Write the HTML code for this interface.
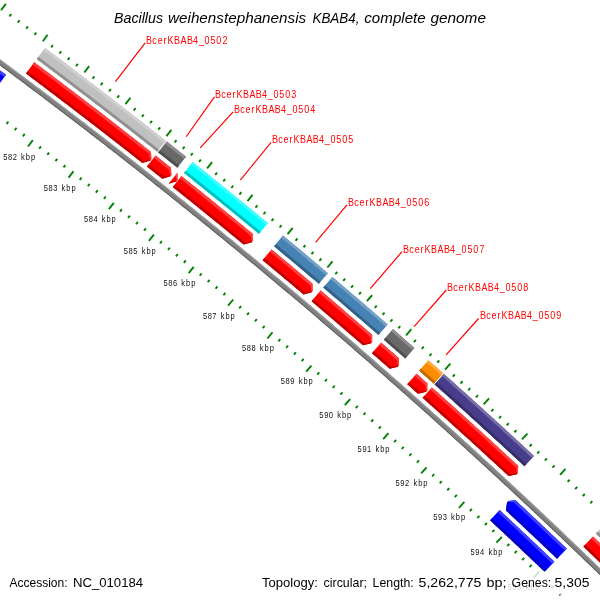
<!DOCTYPE html>
<html><head><meta charset="utf-8"><title>Bacillus weihenstephanensis KBAB4, complete genome</title><style>
html,body{margin:0;padding:0;background:#fff;}
svg{display:block;}
text{will-change:transform;}
</style></head><body>
<svg width="600" height="600" viewBox="0 0 600 600">
<rect width="600" height="600" fill="#fff"/>
<g stroke="#008000" stroke-width="1.9"><line x1="1.08" y1="10.30" x2="5.82" y2="3.85"/><line x1="9.46" y1="16.45" x2="11.23" y2="14.04"/><line x1="17.81" y1="22.62" x2="19.60" y2="20.21"/><line x1="26.16" y1="28.80" x2="27.95" y2="26.39"/><line x1="34.50" y1="35.00" x2="36.29" y2="32.59"/><line x1="42.83" y1="41.21" x2="47.62" y2="34.80"/><line x1="51.15" y1="47.43" x2="52.95" y2="45.03"/><line x1="59.45" y1="53.67" x2="61.26" y2="51.28"/><line x1="8.34" y1="121.59" x2="6.54" y2="123.99"/><line x1="67.75" y1="59.93" x2="69.56" y2="57.53"/><line x1="16.52" y1="127.76" x2="14.71" y2="130.15"/><line x1="76.03" y1="66.20" x2="77.85" y2="63.81"/><line x1="24.69" y1="133.94" x2="22.88" y2="136.33"/><line x1="84.31" y1="72.48" x2="89.15" y2="66.11"/><line x1="32.85" y1="140.13" x2="28.00" y2="146.50"/><line x1="92.57" y1="78.77" x2="94.39" y2="76.39"/><line x1="40.99" y1="146.34" x2="39.17" y2="148.72"/><line x1="100.82" y1="85.09" x2="102.65" y2="82.70"/><line x1="49.13" y1="152.56" x2="47.31" y2="154.94"/><line x1="109.06" y1="91.41" x2="110.89" y2="89.03"/><line x1="57.26" y1="158.80" x2="55.43" y2="161.17"/><line x1="117.29" y1="97.75" x2="119.13" y2="95.37"/><line x1="65.37" y1="165.05" x2="63.54" y2="167.42"/><line x1="125.51" y1="104.10" x2="130.41" y2="97.78"/><line x1="73.47" y1="171.31" x2="68.57" y2="177.64"/><line x1="133.72" y1="110.47" x2="135.56" y2="108.10"/><line x1="81.57" y1="177.59" x2="79.72" y2="179.96"/><line x1="141.92" y1="116.85" x2="143.77" y2="114.49"/><line x1="89.65" y1="183.88" x2="87.80" y2="186.24"/><line x1="150.11" y1="123.25" x2="151.96" y2="120.89"/><line x1="97.72" y1="190.18" x2="95.87" y2="192.55"/><line x1="158.28" y1="129.66" x2="160.14" y2="127.30"/><line x1="105.78" y1="196.50" x2="103.93" y2="198.86"/><line x1="166.45" y1="136.08" x2="171.40" y2="129.80"/><line x1="113.83" y1="202.84" x2="108.88" y2="209.12"/><line x1="174.60" y1="142.52" x2="176.46" y2="140.17"/><line x1="121.87" y1="209.19" x2="120.01" y2="211.54"/><line x1="182.74" y1="148.97" x2="184.61" y2="146.62"/><line x1="129.89" y1="215.55" x2="128.03" y2="217.90"/><line x1="190.87" y1="155.44" x2="192.74" y2="153.09"/><line x1="137.91" y1="221.92" x2="136.04" y2="224.27"/><line x1="198.99" y1="161.92" x2="200.87" y2="159.58"/><line x1="145.92" y1="228.31" x2="144.04" y2="230.65"/><line x1="207.10" y1="168.41" x2="212.11" y2="162.17"/><line x1="153.91" y1="234.71" x2="148.90" y2="240.95"/><line x1="215.20" y1="174.92" x2="217.08" y2="172.58"/><line x1="161.89" y1="241.13" x2="160.01" y2="243.47"/><line x1="223.29" y1="181.44" x2="225.17" y2="179.11"/><line x1="169.87" y1="247.56" x2="167.98" y2="249.89"/><line x1="231.36" y1="187.98" x2="233.25" y2="185.65"/><line x1="177.83" y1="254.00" x2="175.94" y2="256.33"/><line x1="239.42" y1="194.53" x2="241.32" y2="192.20"/><line x1="185.78" y1="260.46" x2="183.88" y2="262.79"/><line x1="247.48" y1="201.09" x2="252.54" y2="194.90"/><line x1="193.72" y1="266.93" x2="188.66" y2="273.13"/><line x1="255.52" y1="207.67" x2="257.42" y2="205.35"/><line x1="201.64" y1="273.42" x2="199.74" y2="275.74"/><line x1="263.55" y1="214.26" x2="265.45" y2="211.94"/><line x1="209.56" y1="279.91" x2="207.65" y2="282.23"/><line x1="271.57" y1="220.87" x2="273.48" y2="218.55"/><line x1="217.47" y1="286.43" x2="215.56" y2="288.74"/><line x1="279.57" y1="227.49" x2="281.49" y2="225.18"/><line x1="225.36" y1="292.95" x2="223.45" y2="295.26"/><line x1="287.57" y1="234.12" x2="292.68" y2="227.97"/><line x1="233.24" y1="299.49" x2="228.13" y2="305.65"/><line x1="295.55" y1="240.77" x2="297.47" y2="238.46"/><line x1="241.11" y1="306.05" x2="239.19" y2="308.35"/><line x1="303.53" y1="247.43" x2="305.45" y2="245.13"/><line x1="248.97" y1="312.61" x2="247.05" y2="314.91"/><line x1="311.49" y1="254.10" x2="313.42" y2="251.80"/><line x1="256.82" y1="319.19" x2="254.89" y2="321.49"/><line x1="319.44" y1="260.79" x2="321.37" y2="258.49"/><line x1="264.66" y1="325.79" x2="262.73" y2="328.08"/><line x1="327.37" y1="267.49" x2="332.54" y2="261.38"/><line x1="272.49" y1="332.39" x2="267.32" y2="338.50"/><line x1="335.30" y1="274.21" x2="337.24" y2="271.92"/><line x1="280.30" y1="339.01" x2="278.36" y2="341.30"/><line x1="343.22" y1="280.93" x2="345.16" y2="278.65"/><line x1="288.10" y1="345.65" x2="286.16" y2="347.93"/><line x1="351.12" y1="287.68" x2="353.07" y2="285.40"/><line x1="295.90" y1="352.29" x2="293.95" y2="354.58"/><line x1="359.01" y1="294.43" x2="360.96" y2="292.16"/><line x1="303.68" y1="358.96" x2="301.72" y2="361.23"/><line x1="366.89" y1="301.20" x2="372.11" y2="295.14"/><line x1="311.45" y1="365.63" x2="306.23" y2="371.69"/><line x1="374.76" y1="307.99" x2="376.72" y2="305.72"/><line x1="319.20" y1="372.32" x2="317.24" y2="374.59"/><line x1="382.62" y1="314.78" x2="384.58" y2="312.52"/><line x1="326.95" y1="379.02" x2="324.98" y2="381.29"/><line x1="390.46" y1="321.59" x2="392.43" y2="319.33"/><line x1="334.68" y1="385.73" x2="332.72" y2="388.00"/><line x1="398.29" y1="328.42" x2="400.27" y2="326.16"/><line x1="342.41" y1="392.46" x2="340.43" y2="394.72"/><line x1="406.12" y1="335.26" x2="411.39" y2="329.24"/><line x1="350.12" y1="399.20" x2="344.85" y2="405.22"/><line x1="413.93" y1="342.11" x2="415.91" y2="339.85"/><line x1="357.82" y1="405.96" x2="355.84" y2="408.21"/><line x1="421.72" y1="348.97" x2="423.71" y2="346.72"/><line x1="365.51" y1="412.72" x2="363.52" y2="414.97"/><line x1="429.51" y1="355.85" x2="431.50" y2="353.60"/><line x1="373.18" y1="419.50" x2="371.19" y2="421.75"/><line x1="437.28" y1="362.74" x2="439.28" y2="360.50"/><line x1="380.85" y1="426.30" x2="378.85" y2="428.54"/><line x1="445.05" y1="369.64" x2="450.37" y2="363.67"/><line x1="388.50" y1="433.11" x2="383.18" y2="439.08"/><line x1="452.80" y1="376.56" x2="454.80" y2="374.33"/><line x1="396.14" y1="439.93" x2="394.14" y2="442.16"/><line x1="460.53" y1="383.49" x2="462.54" y2="381.26"/><line x1="403.77" y1="446.76" x2="401.77" y2="448.99"/><line x1="468.26" y1="390.44" x2="470.27" y2="388.21"/><line x1="411.39" y1="453.61" x2="409.38" y2="455.84"/><line x1="475.98" y1="397.40" x2="477.99" y2="395.17"/><line x1="418.99" y1="460.47" x2="416.98" y2="462.69"/><line x1="483.68" y1="404.37" x2="489.05" y2="398.44"/><line x1="426.59" y1="467.34" x2="421.21" y2="473.27"/><line x1="491.37" y1="411.35" x2="493.39" y2="409.13"/><line x1="434.17" y1="474.22" x2="432.15" y2="476.44"/><line x1="499.05" y1="418.35" x2="501.07" y2="416.13"/><line x1="441.74" y1="481.12" x2="439.72" y2="483.34"/><line x1="506.71" y1="425.36" x2="508.74" y2="423.15"/><line x1="449.30" y1="488.04" x2="447.27" y2="490.25"/><line x1="514.37" y1="432.38" x2="516.40" y2="430.18"/><line x1="456.84" y1="494.96" x2="454.81" y2="497.17"/><line x1="522.01" y1="439.42" x2="527.43" y2="433.54"/><line x1="464.38" y1="501.90" x2="458.95" y2="507.78"/><line x1="529.64" y1="446.47" x2="531.68" y2="444.27"/><line x1="471.90" y1="508.85" x2="469.86" y2="511.05"/><line x1="537.26" y1="453.54" x2="539.30" y2="451.34"/><line x1="479.41" y1="515.81" x2="477.37" y2="518.01"/><line x1="544.86" y1="460.61" x2="546.91" y2="458.42"/><line x1="486.91" y1="522.79" x2="484.86" y2="524.99"/><line x1="552.46" y1="467.70" x2="554.51" y2="465.51"/><line x1="494.39" y1="529.78" x2="492.34" y2="531.97"/><line x1="560.04" y1="474.81" x2="565.51" y2="468.97"/><line x1="501.87" y1="536.78" x2="496.39" y2="542.62"/><line x1="567.61" y1="481.92" x2="569.66" y2="479.74"/><line x1="509.33" y1="543.80" x2="507.27" y2="545.98"/><line x1="575.16" y1="489.05" x2="577.22" y2="486.87"/><line x1="516.78" y1="550.83" x2="514.72" y2="553.01"/><line x1="582.71" y1="496.19" x2="584.77" y2="494.02"/><line x1="524.22" y1="557.87" x2="522.15" y2="560.05"/><line x1="590.24" y1="503.35" x2="592.31" y2="501.17"/><line x1="531.64" y1="564.92" x2="529.58" y2="567.10"/><line x1="539.06" y1="571.99" x2="533.53" y2="577.78"/><line x1="546.46" y1="579.07" x2="544.38" y2="581.24"/><line x1="553.85" y1="586.16" x2="551.77" y2="588.32"/><line x1="561.23" y1="593.27" x2="559.14" y2="595.43"/></g>
<path d="M-51.76,21.27 -54.70,25.32 -52.19,27.13 -49.69,28.95 -47.19,30.77 -44.69,32.59 -42.18,34.41 -39.68,36.23 -37.19,38.05 -34.69,39.88 -32.19,41.70 -29.70,43.53 -27.20,45.36 -24.71,47.19 -22.21,49.02 -19.72,50.85 -17.23,52.69 -14.74,54.52 -12.25,56.36 -9.76,58.20 -7.27,60.03 -4.79,61.87 -2.30,63.72 0.18,65.56 2.67,67.40 5.15,69.25 7.63,71.09 10.11,72.94 12.59,74.79 15.07,76.64 17.55,78.49 20.03,80.35 22.50,82.20 24.98,84.06 27.45,85.91 29.92,87.77 32.40,89.63 34.87,91.49 37.34,93.35 39.81,95.22 42.27,97.08 44.74,98.95 47.21,100.81 49.67,102.68 52.14,104.55 54.60,106.42 57.06,108.29 59.53,110.17 61.99,112.04 64.45,113.92 66.90,115.80 69.36,117.67 71.82,119.55 74.27,121.43 76.73,123.32 79.18,125.20 81.64,127.09 84.09,128.97 86.54,130.86 88.99,132.75 91.44,134.64 93.89,136.53 96.33,138.42 98.78,140.31 101.22,142.21 103.67,144.11 106.11,146.00 108.55,147.90 110.99,149.80 113.43,151.70 115.87,153.61 118.31,155.51 120.75,157.41 123.18,159.32 125.62,161.23 128.05,163.14 130.49,165.05 132.92,166.96 135.35,168.87 137.78,170.79 140.21,172.70 142.64,174.62 145.06,176.53 147.49,178.45 149.92,180.37 152.34,182.29 154.76,184.22 157.19,186.14 159.61,188.07 162.03,189.99 164.45,191.92 166.87,193.85 169.28,195.78 171.70,197.71 174.11,199.64 176.53,201.58 178.94,203.51 181.35,205.45 183.77,207.39 186.18,209.33 188.58,211.27 190.99,213.21 193.40,215.15 195.81,217.09 198.21,219.04 200.62,220.99 203.02,222.93 205.42,224.88 207.82,226.83 210.22,228.78 212.62,230.74 215.02,232.69 217.42,234.64 219.81,236.60 222.21,238.56 224.60,240.52 227.00,242.48 229.39,244.44 231.78,246.40 234.17,248.36 236.56,250.33 238.95,252.30 241.33,254.26 243.72,256.23 246.10,258.20 248.49,260.17 250.87,262.15 253.25,264.12 255.63,266.09 258.01,268.07 260.39,270.05 262.77,272.03 265.15,274.01 267.52,275.99 269.90,277.97 272.27,279.95 274.65,281.94 277.02,283.92 279.39,285.91 281.76,287.90 284.13,289.89 286.49,291.88 288.86,293.87 291.23,295.86 293.59,297.86 295.95,299.85 298.32,301.85 300.68,303.85 303.04,305.85 305.40,307.85 307.76,309.85 310.11,311.85 312.47,313.86 314.82,315.86 317.18,317.87 319.53,319.88 321.88,321.89 324.24,323.90 326.59,325.91 328.93,327.92 331.28,329.93 333.63,331.95 335.97,333.97 338.32,335.98 340.66,338.00 343.01,340.02 345.35,342.04 347.69,344.07 350.03,346.09 352.37,348.11 354.70,350.14 357.04,352.17 359.38,354.20 361.71,356.23 364.04,358.26 366.38,360.29 368.71,362.32 371.04,364.36 373.37,366.39 375.69,368.43 378.02,370.47 380.35,372.51 382.67,374.55 385.00,376.59 387.32,378.63 389.64,380.68 391.96,382.72 394.28,384.77 396.60,386.82 398.92,388.87 401.23,390.92 403.55,392.97 405.86,395.02 408.18,397.07 410.49,399.13 412.80,401.18 415.11,403.24 417.42,405.30 419.73,407.36 422.03,409.42 424.34,411.48 426.64,413.55 428.95,415.61 431.25,417.68 433.55,419.74 435.85,421.81 438.15,423.88 440.45,425.95 442.75,428.02 445.04,430.09 447.34,432.17 449.63,434.24 451.92,436.32 454.22,438.40 456.51,440.48 458.80,442.56 461.09,444.64 463.37,446.72 465.66,448.80 467.95,450.89 470.23,452.97 472.51,455.06 474.80,457.15 477.08,459.24 479.36,461.33 481.64,463.42 483.91,465.51 486.19,467.61 488.47,469.70 490.74,471.80 493.01,473.90 495.29,476.00 497.56,478.10 499.83,480.20 502.10,482.30 504.36,484.40 506.63,486.51 508.90,488.61 511.16,490.72 513.43,492.83 515.69,494.94 517.95,497.05 520.21,499.16 522.47,501.27 524.73,503.39 526.99,505.50 529.24,507.62 531.50,509.73 533.75,511.85 536.00,513.97 538.26,516.09 540.51,518.22 542.76,520.34 545.00,522.46 547.25,524.59 549.50,526.72 551.74,528.84 553.99,530.97 556.23,533.10 558.47,535.24 560.71,537.37 562.95,539.50 565.19,541.64 567.43,543.77 569.66,545.91 571.90,548.05 574.13,550.19 576.37,552.33 578.60,554.47 580.83,556.61 583.06,558.76 585.29,560.90 587.51,563.05 589.74,565.20 591.97,567.35 594.19,569.50 596.41,571.65 598.63,573.80 600.86,575.95 603.08,578.11 605.29,580.26 607.51,582.42 609.73,584.58 611.94,586.74 614.16,588.90 616.37,591.06 618.58,593.22 620.79,595.38 623.00,597.55 625.21,599.72 627.42,601.88 629.62,604.05 631.83,606.22 634.03,608.39 636.24,610.56 638.44,612.74 640.64,614.91 641.34,614.20 641.34,614.20 644.15,611.35 641.95,609.18 639.75,607.00 637.54,604.83 635.34,602.66 633.13,600.49 630.92,598.32 628.71,596.15 626.50,593.98 624.29,591.81 622.08,589.65 619.86,587.48 617.65,585.32 615.43,583.16 613.22,581.00 611.00,578.84 608.78,576.68 606.56,574.52 604.34,572.36 602.11,570.21 599.89,568.05 597.67,565.90 595.44,563.75 593.21,561.60 590.98,559.45 588.76,557.30 586.52,555.16 584.29,553.01 582.06,550.86 579.83,548.72 577.59,546.58 575.36,544.44 573.12,542.30 570.88,540.16 568.64,538.02 566.40,535.88 564.16,533.75 561.92,531.61 559.67,529.48 557.43,527.35 555.18,525.22 552.94,523.09 550.69,520.96 548.44,518.83 546.19,516.70 543.94,514.58 541.68,512.46 539.43,510.33 537.18,508.21 534.92,506.09 532.66,503.97 530.41,501.85 528.15,499.74 525.89,497.62 523.63,495.51 521.36,493.39 519.10,491.28 516.83,489.17 514.57,487.06 512.30,484.95 510.03,482.84 507.77,480.74 505.50,478.63 503.22,476.53 500.95,474.42 498.68,472.32 496.41,470.22 494.13,468.12 491.85,466.02 489.58,463.93 487.30,461.83 485.02,459.74 482.74,457.64 480.45,455.55 478.17,453.46 475.89,451.37 473.60,449.28 471.32,447.19 469.03,445.11 466.74,443.02 464.45,440.94 462.16,438.86 459.87,436.77 457.58,434.69 455.28,432.61 452.99,430.54 450.69,428.46 448.39,426.38 446.10,424.31 443.80,422.24 441.50,420.16 439.20,418.09 436.89,416.02 434.59,413.95 432.29,411.89 429.98,409.82 427.67,407.76 425.37,405.69 423.06,403.63 420.75,401.57 418.44,399.51 416.12,397.45 413.81,395.39 411.50,393.33 409.18,391.28 406.87,389.22 404.55,387.17 402.23,385.12 399.91,383.07 397.59,381.02 395.27,378.97 392.95,376.92 390.62,374.88 388.30,372.83 385.97,370.79 383.64,368.75 381.32,366.71 378.99,364.67 376.66,362.63 374.33,360.59 371.99,358.56 369.66,356.52 367.33,354.49 364.99,352.45 362.66,350.42 360.32,348.39 357.98,346.36 355.64,344.34 353.30,342.31 350.96,340.28 348.62,338.26 346.27,336.24 343.93,334.22 341.58,332.19 339.24,330.18 336.89,328.16 334.54,326.14 332.19,324.12 329.84,322.11 327.49,320.10 325.13,318.09 322.78,316.07 320.42,314.07 318.07,312.06 315.71,310.05 313.35,308.04 310.99,306.04 308.63,304.04 306.27,302.03 303.91,300.03 301.55,298.03 299.18,296.03 296.82,294.04 294.45,292.04 292.08,290.05 289.71,288.05 287.34,286.06 284.97,284.07 282.60,282.08 280.23,280.09 277.85,278.10 275.48,276.12 273.10,274.13 270.73,272.15 268.35,270.16 265.97,268.18 263.59,266.20 261.21,264.22 258.83,262.25 256.44,260.27 254.06,258.29 251.68,256.32 249.29,254.35 246.90,252.38 244.51,250.41 242.13,248.44 239.74,246.47 237.34,244.50 234.95,242.54 232.56,240.57 230.17,238.61 227.77,236.65 225.37,234.69 222.98,232.73 220.58,230.77 218.18,228.81 215.78,226.86 213.38,224.90 210.98,222.95 208.57,221.00 206.17,219.05 203.76,217.10 201.36,215.15 198.95,213.21 196.54,211.26 194.13,209.32 191.72,207.37 189.31,205.43 186.90,203.49 184.48,201.55 182.07,199.61 179.66,197.68 177.24,195.74 174.82,193.81 172.40,191.87 169.98,189.94 167.56,188.01 165.14,186.08 162.72,184.15 160.30,182.23 157.87,180.30 155.45,178.38 153.02,176.45 150.59,174.53 148.17,172.61 145.74,170.69 143.31,168.77 140.87,166.86 138.44,164.94 136.01,163.03 133.57,161.12 131.14,159.20 128.70,157.29 126.27,155.38 123.83,153.48 121.39,151.57 118.95,149.66 116.51,147.76 114.07,145.86 111.62,143.96 109.18,142.06 106.73,140.16 104.29,138.26 101.84,136.36 99.39,134.47 96.94,132.57 94.49,130.68 92.04,128.79 89.59,126.90 87.14,125.01 84.68,123.12 82.23,121.24 79.77,119.35 77.32,117.47 74.86,115.58 72.40,113.70 69.94,111.82 67.48,109.94 65.02,108.07 62.55,106.19 60.09,104.31 57.63,102.44 55.16,100.57 52.69,98.70 50.23,96.83 47.76,94.96 45.29,93.09 42.82,91.23 40.35,89.36 37.88,87.50 35.40,85.64 32.93,83.77 30.45,81.91 27.98,80.06 25.50,78.20 23.02,76.34 20.54,74.49 18.06,72.64 15.58,70.78 13.10,68.93 10.62,67.08 8.13,65.24 5.65,63.39 3.16,61.54 0.68,59.70 -1.81,57.86 -4.30,56.01 -6.79,54.17 -9.28,52.33 -11.77,50.50 -14.26,48.66 -16.76,46.83 -19.25,44.99 -21.75,43.16 -24.24,41.33 -26.74,39.50 -29.24,37.67 -31.74,35.84 -34.24,34.02 -36.74,32.19 -39.24,30.37 -41.74,28.54 -44.25,26.72 -46.75,24.90 -49.26,23.09Z" fill="#808080"/><path d="M644.15,611.35 641.95,609.18 639.75,607.00 637.54,604.83 635.34,602.66 633.13,600.49 630.92,598.32 628.71,596.15 626.50,593.98 624.29,591.81 622.08,589.65 619.86,587.48 617.65,585.32 615.43,583.16 613.22,581.00 611.00,578.84 608.78,576.68 606.56,574.52 604.34,572.36 602.11,570.21 599.89,568.05 597.67,565.90 595.44,563.75 593.21,561.60 590.98,559.45 588.76,557.30 586.52,555.16 584.29,553.01 582.06,550.86 579.83,548.72 577.59,546.58 575.36,544.44 573.12,542.30 570.88,540.16 568.64,538.02 566.40,535.88 564.16,533.75 561.92,531.61 559.67,529.48 557.43,527.35 555.18,525.22 552.94,523.09 550.69,520.96 548.44,518.83 546.19,516.70 543.94,514.58 541.68,512.46 539.43,510.33 537.18,508.21 534.92,506.09 532.66,503.97 530.41,501.85 528.15,499.74 525.89,497.62 523.63,495.51 521.36,493.39 519.10,491.28 516.83,489.17 514.57,487.06 512.30,484.95 510.03,482.84 507.77,480.74 505.50,478.63 503.22,476.53 500.95,474.42 498.68,472.32 496.41,470.22 494.13,468.12 491.85,466.02 489.58,463.93 487.30,461.83 485.02,459.74 482.74,457.64 480.45,455.55 478.17,453.46 475.89,451.37 473.60,449.28 471.32,447.19 469.03,445.11 466.74,443.02 464.45,440.94 462.16,438.86 459.87,436.77 457.58,434.69 455.28,432.61 452.99,430.54 450.69,428.46 448.39,426.38 446.10,424.31 443.80,422.24 441.50,420.16 439.20,418.09 436.89,416.02 434.59,413.95 432.29,411.89 429.98,409.82 427.67,407.76 425.37,405.69 423.06,403.63 420.75,401.57 418.44,399.51 416.12,397.45 413.81,395.39 411.50,393.33 409.18,391.28 406.87,389.22 404.55,387.17 402.23,385.12 399.91,383.07 397.59,381.02 395.27,378.97 392.95,376.92 390.62,374.88 388.30,372.83 385.97,370.79 383.64,368.75 381.32,366.71 378.99,364.67 376.66,362.63 374.33,360.59 371.99,358.56 369.66,356.52 367.33,354.49 364.99,352.45 362.66,350.42 360.32,348.39 357.98,346.36 355.64,344.34 353.30,342.31 350.96,340.28 348.62,338.26 346.27,336.24 343.93,334.22 341.58,332.19 339.24,330.18 336.89,328.16 334.54,326.14 332.19,324.12 329.84,322.11 327.49,320.10 325.13,318.09 322.78,316.07 320.42,314.07 318.07,312.06 315.71,310.05 313.35,308.04 310.99,306.04 308.63,304.04 306.27,302.03 303.91,300.03 301.55,298.03 299.18,296.03 296.82,294.04 294.45,292.04 292.08,290.05 289.71,288.05 287.34,286.06 284.97,284.07 282.60,282.08 280.23,280.09 277.85,278.10 275.48,276.12 273.10,274.13 270.73,272.15 268.35,270.16 265.97,268.18 263.59,266.20 261.21,264.22 258.83,262.25 256.44,260.27 254.06,258.29 251.68,256.32 249.29,254.35 246.90,252.38 244.51,250.41 242.13,248.44 239.74,246.47 237.34,244.50 234.95,242.54 232.56,240.57 230.17,238.61 227.77,236.65 225.37,234.69 222.98,232.73 220.58,230.77 218.18,228.81 215.78,226.86 213.38,224.90 210.98,222.95 208.57,221.00 206.17,219.05 203.76,217.10 201.36,215.15 198.95,213.21 196.54,211.26 194.13,209.32 191.72,207.37 189.31,205.43 186.90,203.49 184.48,201.55 182.07,199.61 179.66,197.68 177.24,195.74 174.82,193.81 172.40,191.87 169.98,189.94 167.56,188.01 165.14,186.08 162.72,184.15 160.30,182.23 157.87,180.30 155.45,178.38 153.02,176.45 150.59,174.53 148.17,172.61 145.74,170.69 143.31,168.77 140.87,166.86 138.44,164.94 136.01,163.03 133.57,161.12 131.14,159.20 128.70,157.29 126.27,155.38 123.83,153.48 121.39,151.57 118.95,149.66 116.51,147.76 114.07,145.86 111.62,143.96 109.18,142.06 106.73,140.16 104.29,138.26 101.84,136.36 99.39,134.47 96.94,132.57 94.49,130.68 92.04,128.79 89.59,126.90 87.14,125.01 84.68,123.12 82.23,121.24 79.77,119.35 77.32,117.47 74.86,115.58 72.40,113.70 69.94,111.82 67.48,109.94 65.02,108.07 62.55,106.19 60.09,104.31 57.63,102.44 55.16,100.57 52.69,98.70 50.23,96.83 47.76,94.96 45.29,93.09 42.82,91.23 40.35,89.36 37.88,87.50 35.40,85.64 32.93,83.77 30.45,81.91 27.98,80.06 25.50,78.20 23.02,76.34 20.54,74.49 18.06,72.64 15.58,70.78 13.10,68.93 10.62,67.08 8.13,65.24 5.65,63.39 3.16,61.54 0.68,59.70 -1.81,57.86 -4.30,56.01 -6.79,54.17 -9.28,52.33 -11.77,50.50 -14.26,48.66 -16.76,46.83 -19.25,44.99 -21.75,43.16 -24.24,41.33 -26.74,39.50 -29.24,37.67 -31.74,35.84 -34.24,34.02 -36.74,32.19 -39.24,30.37 -41.74,28.54 -44.25,26.72 -46.75,24.90 -49.26,23.09 -51.76,21.27 -54.11,24.51 -52.35,22.08 -49.84,23.89 -47.34,25.71 -44.84,27.53 -42.33,29.35 -39.83,31.17 -37.33,33.00 -34.83,34.82 -32.33,36.65 -29.83,38.48 -27.33,40.30 -24.83,42.13 -22.34,43.96 -19.84,45.80 -17.35,47.63 -14.86,49.47 -12.37,51.30 -9.87,53.14 -7.38,54.98 -4.90,56.82 -2.41,58.66 0.08,60.50 2.57,62.35 5.05,64.19 7.54,66.04 10.02,67.89 12.50,69.73 14.98,71.59 17.46,73.44 19.94,75.29 22.42,77.14 24.90,79.00 27.38,80.86 29.85,82.71 32.33,84.57 34.80,86.43 37.27,88.30 39.75,90.16 42.22,92.02 44.69,93.89 47.16,95.76 49.62,97.62 52.09,99.49 54.56,101.37 57.02,103.24 59.49,105.11 61.95,106.99 64.41,108.86 66.87,110.74 69.33,112.62 71.79,114.50 74.25,116.38 76.71,118.26 79.16,120.14 81.62,122.03 84.07,123.91 86.53,125.80 88.98,127.69 91.43,129.58 93.88,131.47 96.33,133.36 98.78,135.26 101.23,137.15 103.67,139.05 106.12,140.95 108.56,142.84 111.01,144.74 113.45,146.65 115.89,148.55 118.33,150.45 120.77,152.36 123.21,154.26 125.65,156.17 128.09,158.08 130.52,159.99 132.96,161.90 135.39,163.81 137.82,165.73 140.26,167.64 142.69,169.56 145.12,171.48 147.55,173.40 149.97,175.32 152.40,177.24 154.83,179.16 157.25,181.08 159.67,183.01 162.10,184.94 164.52,186.86 166.94,188.79 169.36,190.72 171.78,192.65 174.20,194.59 176.61,196.52 179.03,198.46 181.44,200.39 183.86,202.33 186.27,204.27 188.68,206.21 191.09,208.15 193.50,210.09 195.91,212.04 198.32,213.98 200.73,215.93 203.13,217.88 205.54,219.83 207.94,221.78 210.35,223.73 212.75,225.68 215.15,227.63 217.55,229.59 219.95,231.55 222.34,233.50 224.74,235.46 227.14,237.42 229.53,239.38 231.93,241.35 234.32,243.31 236.71,245.27 239.10,247.24 241.49,249.21 243.88,251.18 246.27,253.15 248.65,255.12 251.04,257.09 253.42,259.06 255.81,261.04 258.19,263.02 260.57,264.99 262.95,266.97 265.33,268.95 267.71,270.93 270.09,272.91 272.46,274.90 274.84,276.88 277.21,278.87 279.59,280.86 281.96,282.84 284.33,284.83 286.70,286.83 289.07,288.82 291.44,290.81 293.80,292.81 296.17,294.80 298.54,296.80 300.90,298.80 303.26,300.80 305.62,302.80 307.99,304.80 310.35,306.80 312.70,308.81 315.06,310.81 317.42,312.82 319.77,314.83 322.13,316.84 324.48,318.85 326.84,320.86 329.19,322.87 331.54,324.88 333.89,326.90 336.24,328.92 338.58,330.93 340.93,332.95 343.27,334.97 345.62,336.99 347.96,339.02 350.30,341.04 352.65,343.07 354.99,345.09 357.32,347.12 359.66,349.15 362.00,351.18 364.34,353.21 366.67,355.24 369.00,357.27 371.34,359.31 373.67,361.34 376.00,363.38 378.33,365.42 380.66,367.46 382.99,369.50 385.31,371.54 387.64,373.59 389.96,375.63 392.28,377.68 394.61,379.72 396.93,381.77 399.25,383.82 401.57,385.87 403.88,387.92 406.20,389.97 408.52,392.03 410.83,394.08 413.15,396.14 415.46,398.20 417.77,400.25 420.08,402.31 422.39,404.38 424.70,406.44 427.01,408.50 429.31,410.57 431.62,412.63 433.92,414.70 436.22,416.77 438.53,418.84 440.83,420.91 443.13,422.98 445.43,425.05 447.72,427.13 450.02,429.20 452.32,431.28 454.61,433.36 456.90,435.43 459.20,437.51 461.49,439.60 463.78,441.68 466.07,443.76 468.35,445.85 470.64,447.93 472.93,450.02 475.21,452.11 477.50,454.20 479.78,456.29 482.06,458.38 484.34,460.47 486.62,462.57 488.90,464.66 491.18,466.76 493.45,468.86 495.73,470.96 498.00,473.06 500.27,475.16 502.55,477.26 504.82,479.36 507.09,481.47 509.35,483.58 511.62,485.68 513.89,487.79 516.15,489.90 518.42,492.01 520.68,494.12 522.94,496.24 525.20,498.35 527.46,500.47 529.72,502.58 531.98,504.70 534.24,506.82 536.49,508.94 538.75,511.06 541.00,513.18 543.25,515.31 545.50,517.43 547.75,519.56 550.00,521.68 552.25,523.81 554.49,525.94 556.74,528.07 558.98,530.20 561.23,532.34 563.47,534.47 565.71,536.61 567.95,538.74 570.19,540.88 572.43,543.02 574.66,545.16 576.90,547.30 579.13,549.44 581.37,551.59 583.60,553.73 585.83,555.88 588.06,558.02 590.29,560.17 592.52,562.32 594.75,564.47 596.97,566.62 599.20,568.77 601.42,570.93 603.64,573.08 605.86,575.24 608.08,577.39 610.30,579.55 612.52,581.71 614.74,583.87 616.95,586.03 619.17,588.20 621.38,590.36 623.59,592.53 625.80,594.69 628.01,596.86 630.22,599.03 632.43,601.20 634.63,603.37 636.84,605.54 639.04,607.71 641.25,609.89 643.45,612.06 641.34,614.20Z" fill="#a0a0a0"/><path d="M-54.70,25.32 -52.19,27.13 -49.69,28.95 -47.19,30.77 -44.69,32.59 -42.18,34.41 -39.68,36.23 -37.19,38.05 -34.69,39.88 -32.19,41.70 -29.70,43.53 -27.20,45.36 -24.71,47.19 -22.21,49.02 -19.72,50.85 -17.23,52.69 -14.74,54.52 -12.25,56.36 -9.76,58.20 -7.27,60.03 -4.79,61.87 -2.30,63.72 0.18,65.56 2.67,67.40 5.15,69.25 7.63,71.09 10.11,72.94 12.59,74.79 15.07,76.64 17.55,78.49 20.03,80.35 22.50,82.20 24.98,84.06 27.45,85.91 29.92,87.77 32.40,89.63 34.87,91.49 37.34,93.35 39.81,95.22 42.27,97.08 44.74,98.95 47.21,100.81 49.67,102.68 52.14,104.55 54.60,106.42 57.06,108.29 59.53,110.17 61.99,112.04 64.45,113.92 66.90,115.80 69.36,117.67 71.82,119.55 74.27,121.43 76.73,123.32 79.18,125.20 81.64,127.09 84.09,128.97 86.54,130.86 88.99,132.75 91.44,134.64 93.89,136.53 96.33,138.42 98.78,140.31 101.22,142.21 103.67,144.11 106.11,146.00 108.55,147.90 110.99,149.80 113.43,151.70 115.87,153.61 118.31,155.51 120.75,157.41 123.18,159.32 125.62,161.23 128.05,163.14 130.49,165.05 132.92,166.96 135.35,168.87 137.78,170.79 140.21,172.70 142.64,174.62 145.06,176.53 147.49,178.45 149.92,180.37 152.34,182.29 154.76,184.22 157.19,186.14 159.61,188.07 162.03,189.99 164.45,191.92 166.87,193.85 169.28,195.78 171.70,197.71 174.11,199.64 176.53,201.58 178.94,203.51 181.35,205.45 183.77,207.39 186.18,209.33 188.58,211.27 190.99,213.21 193.40,215.15 195.81,217.09 198.21,219.04 200.62,220.99 203.02,222.93 205.42,224.88 207.82,226.83 210.22,228.78 212.62,230.74 215.02,232.69 217.42,234.64 219.81,236.60 222.21,238.56 224.60,240.52 227.00,242.48 229.39,244.44 231.78,246.40 234.17,248.36 236.56,250.33 238.95,252.30 241.33,254.26 243.72,256.23 246.10,258.20 248.49,260.17 250.87,262.15 253.25,264.12 255.63,266.09 258.01,268.07 260.39,270.05 262.77,272.03 265.15,274.01 267.52,275.99 269.90,277.97 272.27,279.95 274.65,281.94 277.02,283.92 279.39,285.91 281.76,287.90 284.13,289.89 286.49,291.88 288.86,293.87 291.23,295.86 293.59,297.86 295.95,299.85 298.32,301.85 300.68,303.85 303.04,305.85 305.40,307.85 307.76,309.85 310.11,311.85 312.47,313.86 314.82,315.86 317.18,317.87 319.53,319.88 321.88,321.89 324.24,323.90 326.59,325.91 328.93,327.92 331.28,329.93 333.63,331.95 335.97,333.97 338.32,335.98 340.66,338.00 343.01,340.02 345.35,342.04 347.69,344.07 350.03,346.09 352.37,348.11 354.70,350.14 357.04,352.17 359.38,354.20 361.71,356.23 364.04,358.26 366.38,360.29 368.71,362.32 371.04,364.36 373.37,366.39 375.69,368.43 378.02,370.47 380.35,372.51 382.67,374.55 385.00,376.59 387.32,378.63 389.64,380.68 391.96,382.72 394.28,384.77 396.60,386.82 398.92,388.87 401.23,390.92 403.55,392.97 405.86,395.02 408.18,397.07 410.49,399.13 412.80,401.18 415.11,403.24 417.42,405.30 419.73,407.36 422.03,409.42 424.34,411.48 426.64,413.55 428.95,415.61 431.25,417.68 433.55,419.74 435.85,421.81 438.15,423.88 440.45,425.95 442.75,428.02 445.04,430.09 447.34,432.17 449.63,434.24 451.92,436.32 454.22,438.40 456.51,440.48 458.80,442.56 461.09,444.64 463.37,446.72 465.66,448.80 467.95,450.89 470.23,452.97 472.51,455.06 474.80,457.15 477.08,459.24 479.36,461.33 481.64,463.42 483.91,465.51 486.19,467.61 488.47,469.70 490.74,471.80 493.01,473.90 495.29,476.00 497.56,478.10 499.83,480.20 502.10,482.30 504.36,484.40 506.63,486.51 508.90,488.61 511.16,490.72 513.43,492.83 515.69,494.94 517.95,497.05 520.21,499.16 522.47,501.27 524.73,503.39 526.99,505.50 529.24,507.62 531.50,509.73 533.75,511.85 536.00,513.97 538.26,516.09 540.51,518.22 542.76,520.34 545.00,522.46 547.25,524.59 549.50,526.72 551.74,528.84 553.99,530.97 556.23,533.10 558.47,535.24 560.71,537.37 562.95,539.50 565.19,541.64 567.43,543.77 569.66,545.91 571.90,548.05 574.13,550.19 576.37,552.33 578.60,554.47 580.83,556.61 583.06,558.76 585.29,560.90 587.51,563.05 589.74,565.20 591.97,567.35 594.19,569.50 596.41,571.65 598.63,573.80 600.86,575.95 603.08,578.11 605.29,580.26 607.51,582.42 609.73,584.58 611.94,586.74 614.16,588.90 616.37,591.06 618.58,593.22 620.79,595.38 623.00,597.55 625.21,599.72 627.42,601.88 629.62,604.05 631.83,606.22 634.03,608.39 636.24,610.56 638.44,612.74 640.64,614.91 641.34,614.20 639.14,612.02 636.94,609.85 634.73,607.68 632.53,605.51 630.32,603.34 628.12,601.17 625.91,599.00 623.70,596.84 621.49,594.67 619.28,592.51 617.07,590.34 614.86,588.18 612.64,586.02 610.43,583.86 608.21,581.70 605.99,579.55 603.77,577.39 601.55,575.24 599.33,573.08 597.11,570.93 594.88,568.78 592.66,566.63 590.43,564.48 588.21,562.33 585.98,560.18 583.75,558.04 581.52,555.89 579.29,553.75 577.06,551.61 574.82,549.47 572.59,547.33 570.35,545.19 568.12,543.05 565.88,540.91 563.64,538.78 561.40,536.64 559.16,534.51 556.92,532.38 554.67,530.25 552.43,528.12 550.19,525.99 547.94,523.86 545.69,521.74 543.44,519.61 541.19,517.49 538.94,515.37 536.69,513.25 534.44,511.13 532.18,509.01 529.93,506.89 527.67,504.77 525.41,502.66 523.15,500.54 520.89,498.43 518.63,496.32 516.37,494.21 514.11,492.10 511.84,489.99 509.58,487.88 507.31,485.77 505.05,483.67 502.78,481.57 500.51,479.46 498.24,477.36 495.96,475.26 493.69,473.16 491.42,471.06 489.14,468.97 486.87,466.87 484.59,464.78 482.31,462.68 480.03,460.59 477.75,458.50 475.47,456.41 473.19,454.32 470.90,452.24 468.62,450.15 466.33,448.06 464.05,445.98 461.76,443.90 459.47,441.82 457.18,439.74 454.89,437.66 452.60,435.58 450.30,433.50 448.01,431.43 445.71,429.35 443.42,427.28 441.12,425.21 438.82,423.14 436.52,421.07 434.22,419.00 431.92,416.93 429.61,414.87 427.31,412.80 425.01,410.74 422.70,408.67 420.39,406.61 418.08,404.55 415.77,402.49 413.46,400.44 411.15,398.38 408.84,396.33 406.53,394.27 404.21,392.22 401.90,390.17 399.58,388.12 397.26,386.07 394.94,384.02 392.62,381.97 390.30,379.93 387.98,377.88 385.66,375.84 383.33,373.80 381.01,371.76 378.68,369.72 376.35,367.68 374.02,365.64 371.70,363.60 369.36,361.57 367.03,359.54 364.70,357.50 362.37,355.47 360.03,353.44 357.70,351.41 355.36,349.39 353.02,347.36 350.68,345.33 348.34,343.31 346.00,341.29 343.66,339.27 341.32,337.25 338.97,335.23 336.63,333.21 334.28,331.19 331.93,329.18 329.59,327.16 327.24,325.15 324.89,323.14 322.53,321.13 320.18,319.12 317.83,317.11 315.47,315.10 313.12,313.10 310.76,311.09 308.40,309.09 306.04,307.09 303.68,305.08 301.32,303.09 298.96,301.09 296.60,299.09 294.24,297.09 291.87,295.10 289.50,293.11 287.14,291.11 284.77,289.12 282.40,287.13 280.03,285.14 277.66,283.16 275.29,281.17 272.91,279.18 270.54,277.20 268.16,275.22 265.79,273.24 263.41,271.26 261.03,269.28 258.65,267.30 256.27,265.32 253.89,263.35 251.51,261.38 249.13,259.40 246.74,257.43 244.36,255.46 241.97,253.49 239.58,251.52 237.19,249.56 234.80,247.59 232.41,245.63 230.02,243.67 227.63,241.70 225.24,239.74 222.84,237.78 220.45,235.83 218.05,233.87 215.65,231.91 213.25,229.96 210.85,228.01 208.45,226.06 206.05,224.11 203.65,222.16 201.25,220.21 198.84,218.26 196.44,216.32 194.03,214.37 191.62,212.43 189.21,210.49 186.80,208.55 184.39,206.61 181.98,204.67 179.57,202.73 177.15,200.80 174.74,198.86 172.32,196.93 169.91,195.00 167.49,193.07 165.07,191.14 162.65,189.21 160.23,187.28 157.81,185.36 155.39,183.43 152.96,181.51 150.54,179.59 148.11,177.67 145.68,175.75 143.26,173.83 140.83,171.92 138.40,170.00 135.97,168.09 133.54,166.17 131.10,164.26 128.67,162.35 126.24,160.44 123.80,158.53 121.36,156.63 118.93,154.72 116.49,152.82 114.05,150.91 111.61,149.01 109.17,147.11 106.72,145.21 104.28,143.32 101.84,141.42 99.39,139.52 96.94,137.63 94.50,135.74 92.05,133.85 89.60,131.96 87.15,130.07 84.70,128.18 82.25,126.29 79.79,124.41 77.34,122.52 74.88,120.64 72.43,118.76 69.97,116.88 67.51,115.00 65.05,113.12 62.59,111.25 60.13,109.37 57.67,107.50 55.21,105.63 52.74,103.75 50.28,101.88 47.81,100.02 45.35,98.15 42.88,96.28 40.41,94.42 37.94,92.55 35.47,90.69 33.00,88.83 30.52,86.97 28.05,85.11 25.58,83.26 23.10,81.40 20.62,79.55 18.15,77.69 15.67,75.84 13.19,73.99 10.71,72.14 8.23,70.29 5.75,68.45 3.26,66.60 0.78,64.76 -1.71,62.91 -4.19,61.07 -6.68,59.23 -9.17,57.39 -11.66,55.55 -14.15,53.72 -16.64,51.88 -19.13,50.05 -21.62,48.21 -24.11,46.38 -26.61,44.55 -29.10,42.72 -31.60,40.90 -34.10,39.07 -36.60,37.25 -39.10,35.42 -41.60,33.60 -44.10,31.78 -46.60,29.96 -49.10,28.14 -51.61,26.32 -54.11,24.51 -51.76,21.27Z" fill="#606060"/>
<path d="M45.09,47.90 38.38,56.86 38.38,56.86 36.70,59.10 39.19,60.96 41.67,62.83 44.15,64.69 46.64,66.56 49.12,68.42 51.60,70.29 54.08,72.16 56.56,74.03 59.03,75.90 61.51,77.78 63.99,79.65 66.46,81.53 68.94,83.40 71.41,85.28 73.88,87.16 76.35,89.04 78.82,90.92 81.29,92.81 83.76,94.69 86.22,96.58 88.69,98.47 91.15,100.35 93.62,102.24 96.08,104.13 98.54,106.03 101.00,107.92 103.46,109.82 105.92,111.71 108.38,113.61 110.84,115.51 113.30,117.41 115.75,119.31 118.20,121.21 120.66,123.11 123.11,125.02 125.56,126.93 128.01,128.83 130.46,130.74 132.91,132.65 135.36,134.56 137.80,136.48 140.25,138.39 142.69,140.31 145.14,142.22 147.58,144.14 150.02,146.06 152.46,147.98 154.90,149.90 157.34,151.82 159.07,149.62 159.07,149.62 166.01,140.83 163.56,138.90 161.12,136.98 158.67,135.05 156.23,133.13 153.78,131.21 151.33,129.29 148.88,127.37 146.43,125.45 143.98,123.53 141.52,121.62 139.07,119.70 136.61,117.79 134.16,115.88 131.70,113.97 129.24,112.06 126.78,110.15 124.32,108.24 121.86,106.34 119.40,104.43 116.94,102.53 114.48,100.63 112.01,98.73 109.54,96.83 107.08,94.93 104.61,93.03 102.14,91.14 99.67,89.24 97.20,87.35 94.73,85.46 92.26,83.57 89.78,81.68 87.31,79.79 84.83,77.90 82.36,76.02 79.88,74.14 77.40,72.25 74.92,70.37 72.44,68.49 69.96,66.61 67.48,64.74 64.99,62.86 62.51,60.98 60.02,59.11 57.54,57.24 55.05,55.37 52.56,53.50 50.07,51.63 47.58,49.76Z" fill="#c0c0c0"/><path d="M166.01,140.83 163.56,138.90 161.12,136.98 158.67,135.05 156.23,133.13 153.78,131.21 151.33,129.29 148.88,127.37 146.43,125.45 143.98,123.53 141.52,121.62 139.07,119.70 136.61,117.79 134.16,115.88 131.70,113.97 129.24,112.06 126.78,110.15 124.32,108.24 121.86,106.34 119.40,104.43 116.94,102.53 114.48,100.63 112.01,98.73 109.54,96.83 107.08,94.93 104.61,93.03 102.14,91.14 99.67,89.24 97.20,87.35 94.73,85.46 92.26,83.57 89.78,81.68 87.31,79.79 84.83,77.90 82.36,76.02 79.88,74.14 77.40,72.25 74.92,70.37 72.44,68.49 69.96,66.61 67.48,64.74 64.99,62.86 62.51,60.98 60.02,59.11 57.54,57.24 55.05,55.37 52.56,53.50 50.07,51.63 47.58,49.76 45.09,47.90 38.38,56.86 43.41,50.14 45.90,52.00 48.39,53.87 50.88,55.74 53.37,57.61 55.85,59.48 58.34,61.35 60.82,63.22 63.31,65.09 65.79,66.97 68.27,68.85 70.75,70.72 73.23,72.60 75.71,74.48 78.18,76.37 80.66,78.25 83.14,80.13 85.61,82.02 88.08,83.90 90.56,85.79 93.03,87.68 95.50,89.57 97.97,91.47 100.44,93.36 102.90,95.25 105.37,97.15 107.84,99.05 110.30,100.94 112.77,102.84 115.23,104.74 117.69,106.65 120.15,108.55 122.61,110.46 125.07,112.36 127.53,114.27 129.98,116.18 132.44,118.09 134.89,120.00 137.35,121.91 139.80,123.82 142.25,125.74 144.70,127.65 147.15,129.57 149.60,131.49 152.05,133.41 154.50,135.33 156.94,137.25 159.39,139.18 161.83,141.10 164.27,143.03Z" fill="#d0d0d0"/><path d="M36.70,59.10 39.19,60.96 41.67,62.83 44.15,64.69 46.64,66.56 49.12,68.42 51.60,70.29 54.08,72.16 56.56,74.03 59.03,75.90 61.51,77.78 63.99,79.65 66.46,81.53 68.94,83.40 71.41,85.28 73.88,87.16 76.35,89.04 78.82,90.92 81.29,92.81 83.76,94.69 86.22,96.58 88.69,98.47 91.15,100.35 93.62,102.24 96.08,104.13 98.54,106.03 101.00,107.92 103.46,109.82 105.92,111.71 108.38,113.61 110.84,115.51 113.30,117.41 115.75,119.31 118.20,121.21 120.66,123.11 123.11,125.02 125.56,126.93 128.01,128.83 130.46,130.74 132.91,132.65 135.36,134.56 137.80,136.48 140.25,138.39 142.69,140.31 145.14,142.22 147.58,144.14 150.02,146.06 152.46,147.98 154.90,149.90 157.34,151.82 159.07,149.62 156.63,147.70 154.19,145.78 151.75,143.86 149.31,141.94 146.86,140.02 144.42,138.10 141.97,136.19 139.53,134.27 137.08,132.36 134.63,130.45 132.18,128.53 129.73,126.62 127.28,124.72 124.83,122.81 122.37,120.90 119.92,119.00 117.47,117.10 115.01,115.19 112.55,113.29 110.09,111.39 107.63,109.49 105.17,107.60 102.71,105.70 100.25,103.81 97.79,101.91 95.32,100.02 92.86,98.13 90.39,96.24 87.93,94.35 85.46,92.47 82.99,90.58 80.52,88.70 78.05,86.81 75.58,84.93 73.10,83.05 70.63,81.17 68.15,79.30 65.68,77.42 63.20,75.54 60.72,73.67 58.24,71.80 55.76,69.93 53.28,68.06 50.80,66.19 48.32,64.32 45.84,62.45 43.35,60.59 40.87,58.72 38.38,56.86Z" fill="#909090"/>
<path d="M34.30,62.31 27.59,71.27 27.59,71.27 25.91,73.51 28.36,75.35 30.81,77.18 33.25,79.02 35.70,80.85 38.14,82.69 40.59,84.53 43.03,86.37 45.47,88.21 47.91,90.06 50.35,91.90 52.79,93.75 55.22,95.60 57.66,97.44 60.10,99.29 62.53,101.14 64.96,103.00 67.40,104.85 69.83,106.70 72.26,108.56 74.69,110.42 77.12,112.28 79.55,114.14 81.97,116.00 84.40,117.86 86.82,119.72 89.25,121.59 91.67,123.45 94.09,125.32 96.51,127.19 98.93,129.06 101.35,130.93 103.77,132.80 106.19,134.67 108.61,136.55 111.02,138.42 113.44,140.30 115.85,142.18 118.26,144.06 120.67,145.94 123.09,147.82 125.49,149.70 127.90,151.59 130.31,153.47 132.72,155.36 135.12,157.25 137.53,159.14 139.93,161.03 142.34,162.92 150.52,160.46 150.58,159.51 151.39,159.36 151.00,151.92 148.59,150.02 146.18,148.13 143.77,146.23 141.36,144.34 138.95,142.45 136.53,140.56 134.12,138.67 131.70,136.79 129.29,134.90 126.87,133.01 124.45,131.13 122.03,129.25 119.61,127.37 117.19,125.49 114.77,123.61 112.34,121.73 109.92,119.85 107.50,117.98 105.07,116.11 102.64,114.23 100.22,112.36 97.79,110.49 95.36,108.62 92.93,106.75 90.49,104.89 88.06,103.02 85.63,101.16 83.19,99.30 80.76,97.44 78.32,95.57 75.88,93.72 73.45,91.86 71.01,90.00 68.57,88.15 66.13,86.29 63.68,84.44 61.24,82.59 58.80,80.74 56.35,78.89 53.91,77.04 51.46,75.20 49.01,73.35 46.56,71.51 44.11,69.66 41.66,67.82 39.21,65.98 36.76,64.14Z" fill="#ff0000"/><path d="M151.39,159.36 151.00,151.92 148.59,150.02 146.18,148.13 143.77,146.23 141.36,144.34 138.95,142.45 136.53,140.56 134.12,138.67 131.70,136.79 129.29,134.90 126.87,133.01 124.45,131.13 122.03,129.25 119.61,127.37 117.19,125.49 114.77,123.61 112.34,121.73 109.92,119.85 107.50,117.98 105.07,116.11 102.64,114.23 100.22,112.36 97.79,110.49 95.36,108.62 92.93,106.75 90.49,104.89 88.06,103.02 85.63,101.16 83.19,99.30 80.76,97.44 78.32,95.57 75.88,93.72 73.45,91.86 71.01,90.00 68.57,88.15 66.13,86.29 63.68,84.44 61.24,82.59 58.80,80.74 56.35,78.89 53.91,77.04 51.46,75.20 49.01,73.35 46.56,71.51 44.11,69.66 41.66,67.82 39.21,65.98 36.76,64.14 34.30,62.31 27.59,71.27 32.63,64.55 35.08,66.38 37.53,68.22 39.98,70.06 42.43,71.90 44.88,73.74 47.33,75.59 49.77,77.43 52.22,79.28 54.66,81.12 57.11,82.97 59.55,84.82 61.99,86.67 64.43,88.52 66.87,90.38 69.31,92.23 71.75,94.09 74.19,95.94 76.62,97.80 79.06,99.66 81.49,101.52 83.93,103.38 86.36,105.25 88.79,107.11 91.22,108.98 93.65,110.84 96.08,112.71 98.51,114.58 100.93,116.45 103.36,118.32 105.78,120.19 108.21,122.07 110.63,123.94 113.05,125.82 115.47,127.70 117.89,129.58 120.31,131.46 122.73,133.34 125.15,135.22 127.56,137.11 129.98,138.99 132.39,140.88 134.81,142.77 137.22,144.66 139.63,146.55 142.04,148.44 144.45,150.33 146.86,152.22 149.27,154.12 150.34,159.55Z" fill="#ff4040"/><path d="M25.91,73.51 28.36,75.35 30.81,77.18 33.25,79.02 35.70,80.85 38.14,82.69 40.59,84.53 43.03,86.37 45.47,88.21 47.91,90.06 50.35,91.90 52.79,93.75 55.22,95.60 57.66,97.44 60.10,99.29 62.53,101.14 64.96,103.00 67.40,104.85 69.83,106.70 72.26,108.56 74.69,110.42 77.12,112.28 79.55,114.14 81.97,116.00 84.40,117.86 86.82,119.72 89.25,121.59 91.67,123.45 94.09,125.32 96.51,127.19 98.93,129.06 101.35,130.93 103.77,132.80 106.19,134.67 108.61,136.55 111.02,138.42 113.44,140.30 115.85,142.18 118.26,144.06 120.67,145.94 123.09,147.82 125.49,149.70 127.90,151.59 130.31,153.47 132.72,155.36 135.12,157.25 137.53,159.14 139.93,161.03 142.34,162.92 150.52,160.46 150.58,159.51 144.07,160.72 141.66,158.83 139.26,156.93 136.85,155.04 134.45,153.16 132.04,151.27 129.63,149.38 127.22,147.50 124.81,145.61 122.40,143.73 119.98,141.85 117.57,139.97 115.16,138.09 112.74,136.21 110.32,134.33 107.91,132.46 105.49,130.59 103.07,128.71 100.65,126.84 98.23,124.97 95.80,123.10 93.38,121.23 90.96,119.37 88.53,117.50 86.10,115.64 83.68,113.77 81.25,111.91 78.82,110.05 76.39,108.19 73.96,106.34 71.53,104.48 69.09,102.62 66.66,100.77 64.23,98.92 61.79,97.06 59.35,95.21 56.92,93.36 54.48,91.52 52.04,89.67 49.60,87.82 47.16,85.98 44.71,84.14 42.27,82.30 39.83,80.45 37.38,78.62 34.94,76.78 32.49,74.94 30.04,73.11 27.59,71.27Z" fill="#bf0000"/>
<path d="M166.74,141.41 159.80,150.20 159.80,150.20 158.07,152.40 160.48,154.31 162.89,156.21 165.31,158.12 167.72,160.03 170.13,161.94 172.53,163.85 174.94,165.76 177.35,167.68 179.09,165.49 179.09,165.49 186.07,156.72 183.65,154.81 181.24,152.89 178.83,150.97 176.41,149.06 174.00,147.14 171.58,145.23 169.16,143.32Z" fill="#696969"/><path d="M186.07,156.72 183.65,154.81 181.24,152.89 178.83,150.97 176.41,149.06 174.00,147.14 171.58,145.23 169.16,143.32 166.74,141.41 159.80,150.20 165.01,143.61 167.43,145.52 169.84,147.43 172.26,149.34 174.67,151.25 177.09,153.17 179.50,155.08 181.91,157.00 184.32,158.92Z" fill="#8e8e8e"/><path d="M158.07,152.40 160.48,154.31 162.89,156.21 165.31,158.12 167.72,160.03 170.13,161.94 172.53,163.85 174.94,165.76 177.35,167.68 179.09,165.49 176.68,163.57 174.28,161.66 171.87,159.75 169.46,157.83 167.04,155.92 164.63,154.02 162.22,152.11 159.80,150.20Z" fill="#4f4f4f"/>
<path d="M155.59,155.54 146.92,166.53 149.12,168.27 151.32,170.00 153.52,171.74 155.71,173.48 157.91,175.22 160.11,176.97 162.30,178.71 170.50,176.29 170.56,175.34 171.37,175.19 171.01,167.75 168.81,166.00 166.61,164.26 164.41,162.51 162.20,160.77 160.00,159.02 157.80,157.28Z" fill="#ff0000"/><path d="M171.37,175.19 171.01,167.75 168.81,166.00 166.61,164.26 164.41,162.51 162.20,160.77 160.00,159.02 157.80,157.28 155.59,155.54 148.65,164.33 153.86,157.74 156.06,159.48 158.26,161.22 160.47,162.96 162.67,164.70 164.87,166.45 167.07,168.19 169.27,169.94 170.32,175.38Z" fill="#ff4040"/><path d="M146.92,166.53 149.12,168.27 151.32,170.00 153.52,171.74 155.71,173.48 157.91,175.22 160.11,176.97 162.30,178.71 170.50,176.29 170.56,175.34 164.04,176.52 161.85,174.77 159.65,173.03 157.45,171.29 155.25,169.55 153.05,167.81 150.85,166.07 148.65,164.33 155.59,155.54Z" fill="#bf0000"/>
<path d="M168.68,183.79 176.72,181.25 176.80,180.31 177.60,180.15 177.41,172.84Z" fill="#ff0000"/><path d="M177.60,180.15 177.41,172.84 175.66,175.03 176.57,180.36Z" fill="#ff4040"/><path d="M168.68,183.79 176.72,181.25 176.80,180.31 170.43,181.60 177.41,172.84Z" fill="#bf0000"/>
<path d="M192.72,162.03 183.99,172.97 186.35,174.85 188.70,176.74 191.06,178.62 193.41,180.51 195.77,182.40 198.12,184.28 200.47,186.17 202.82,188.06 205.17,189.96 207.52,191.85 209.87,193.74 212.21,195.64 214.56,197.54 216.91,199.43 219.25,201.33 221.59,203.23 223.93,205.13 226.28,207.04 228.62,208.94 230.96,210.85 233.29,212.75 235.63,214.66 237.97,216.57 240.30,218.48 242.64,220.39 244.97,222.30 247.30,224.21 249.63,226.13 251.97,228.04 254.29,229.96 256.62,231.88 258.95,233.79 260.73,231.63 260.73,231.63 267.86,222.99 265.53,221.07 263.19,219.15 260.86,217.23 258.52,215.31 256.18,213.39 253.85,211.47 251.51,209.56 249.17,207.64 246.83,205.73 244.48,203.81 242.14,201.90 239.80,199.99 237.45,198.08 235.11,196.17 232.76,194.27 230.41,192.36 228.07,190.46 225.72,188.55 223.37,186.65 221.01,184.75 218.66,182.85 216.31,180.95 213.95,179.05 211.60,177.16 209.24,175.26 206.89,173.37 204.53,171.48 202.17,169.58 199.81,167.69 197.45,165.81 195.09,163.92Z" fill="#00ffff"/><path d="M267.86,222.99 265.53,221.07 263.19,219.15 260.86,217.23 258.52,215.31 256.18,213.39 253.85,211.47 251.51,209.56 249.17,207.64 246.83,205.73 244.48,203.81 242.14,201.90 239.80,199.99 237.45,198.08 235.11,196.17 232.76,194.27 230.41,192.36 228.07,190.46 225.72,188.55 223.37,186.65 221.01,184.75 218.66,182.85 216.31,180.95 213.95,179.05 211.60,177.16 209.24,175.26 206.89,173.37 204.53,171.48 202.17,169.58 199.81,167.69 197.45,165.81 195.09,163.92 192.72,162.03 185.74,170.78 190.98,164.22 193.34,166.10 195.70,167.99 198.06,169.88 200.42,171.77 202.78,173.66 205.13,175.55 207.49,177.45 209.84,179.34 212.20,181.23 214.55,183.13 216.90,185.03 219.25,186.93 221.60,188.83 223.95,190.73 226.30,192.63 228.65,194.54 231.00,196.44 233.34,198.35 235.69,200.25 238.03,202.16 240.37,204.07 242.71,205.98 245.05,207.89 247.39,209.81 249.73,211.72 252.07,213.64 254.41,215.55 256.74,217.47 259.08,219.39 261.41,221.31 263.75,223.23 266.08,225.15 260.73,231.63Z" fill="#40ffff"/><path d="M183.99,172.97 186.35,174.85 188.70,176.74 191.06,178.62 193.41,180.51 195.77,182.40 198.12,184.28 200.47,186.17 202.82,188.06 205.17,189.96 207.52,191.85 209.87,193.74 212.21,195.64 214.56,197.54 216.91,199.43 219.25,201.33 221.59,203.23 223.93,205.13 226.28,207.04 228.62,208.94 230.96,210.85 233.29,212.75 235.63,214.66 237.97,216.57 240.30,218.48 242.64,220.39 244.97,222.30 247.30,224.21 249.63,226.13 251.97,228.04 254.29,229.96 256.62,231.88 258.95,233.79 260.73,231.63 258.40,229.72 256.07,227.80 253.74,225.88 251.41,223.96 249.08,222.05 246.75,220.13 244.41,218.22 242.08,216.31 239.74,214.40 237.40,212.49 235.06,210.58 232.72,208.67 230.38,206.77 228.04,204.86 225.70,202.96 223.36,201.06 221.01,199.16 218.67,197.26 216.32,195.36 213.97,193.46 211.63,191.57 209.28,189.67 206.93,187.78 204.58,185.88 202.23,183.99 199.87,182.10 197.52,180.21 195.16,178.32 192.81,176.44 190.45,174.55 188.10,172.67 185.74,170.78 192.72,162.03Z" fill="#00bfbf"/>
<path d="M181.49,176.10 172.76,187.04 175.14,188.94 177.52,190.84 179.90,192.74 182.27,194.65 184.65,196.55 187.02,198.46 189.40,200.37 191.77,202.27 194.14,204.18 196.51,206.09 198.88,208.01 201.25,209.92 203.61,211.83 205.98,213.75 208.35,215.67 210.71,217.58 213.07,219.50 215.44,221.42 217.80,223.34 220.16,225.27 222.52,227.19 224.88,229.12 227.24,231.04 229.59,232.97 231.95,234.90 234.30,236.83 236.66,238.76 239.01,240.69 241.36,242.63 243.71,244.56 251.95,242.28 252.03,241.33 252.84,241.20 252.61,233.75 250.26,231.81 247.90,229.88 245.54,227.94 243.18,226.00 240.82,224.07 238.46,222.14 236.10,220.20 233.73,218.27 231.37,216.34 229.00,214.41 226.64,212.49 224.27,210.56 221.90,208.64 219.53,206.71 217.16,204.79 214.79,202.87 212.42,200.95 210.05,199.03 207.67,197.11 205.30,195.20 202.92,193.28 200.55,191.37 198.17,189.45 195.79,187.54 193.41,185.63 191.03,183.72 188.65,181.82 186.26,179.91 183.88,178.00Z" fill="#ff0000"/><path d="M252.84,241.20 252.61,233.75 250.26,231.81 247.90,229.88 245.54,227.94 243.18,226.00 240.82,224.07 238.46,222.14 236.10,220.20 233.73,218.27 231.37,216.34 229.00,214.41 226.64,212.49 224.27,210.56 221.90,208.64 219.53,206.71 217.16,204.79 214.79,202.87 212.42,200.95 210.05,199.03 207.67,197.11 205.30,195.20 202.92,193.28 200.55,191.37 198.17,189.45 195.79,187.54 193.41,185.63 191.03,183.72 188.65,181.82 186.26,179.91 183.88,178.00 181.49,176.10 174.51,184.85 179.75,178.29 182.13,180.19 184.51,182.10 186.90,184.00 189.28,185.91 191.66,187.82 194.04,189.73 196.41,191.64 198.79,193.55 201.17,195.46 203.54,197.38 205.91,199.29 208.29,201.21 210.66,203.13 213.03,205.05 215.40,206.97 217.77,208.89 220.14,210.81 222.50,212.73 224.87,214.66 227.24,216.59 229.60,218.51 231.96,220.44 234.32,222.37 236.69,224.30 239.05,226.24 241.41,228.17 243.76,230.10 246.12,232.04 248.48,233.98 250.83,235.92 251.79,241.37Z" fill="#ff4040"/><path d="M172.76,187.04 175.14,188.94 177.52,190.84 179.90,192.74 182.27,194.65 184.65,196.55 187.02,198.46 189.40,200.37 191.77,202.27 194.14,204.18 196.51,206.09 198.88,208.01 201.25,209.92 203.61,211.83 205.98,213.75 208.35,215.67 210.71,217.58 213.07,219.50 215.44,221.42 217.80,223.34 220.16,225.27 222.52,227.19 224.88,229.12 227.24,231.04 229.59,232.97 231.95,234.90 234.30,236.83 236.66,238.76 239.01,240.69 241.36,242.63 243.71,244.56 251.95,242.28 252.03,241.33 245.49,242.40 243.14,240.46 240.79,238.53 238.43,236.60 236.08,234.66 233.72,232.73 231.37,230.80 229.01,228.88 226.65,226.95 224.29,225.02 221.93,223.10 219.57,221.17 217.20,219.25 214.84,217.33 212.48,215.41 210.11,213.49 207.74,211.57 205.38,209.66 203.01,207.74 200.64,205.83 198.27,203.91 195.90,202.00 193.52,200.09 191.15,198.18 188.78,196.27 186.40,194.37 184.02,192.46 181.65,190.56 179.27,188.65 176.89,186.75 174.51,184.85 181.49,176.10Z" fill="#bf0000"/>
<path d="M283.02,235.54 274.07,246.31 276.44,248.27 278.80,250.24 281.16,252.21 283.53,254.17 285.89,256.14 288.25,258.11 290.61,260.09 292.96,262.06 295.32,264.03 297.68,266.01 300.03,267.99 302.39,269.96 304.74,271.94 307.09,273.92 309.44,275.91 311.79,277.89 314.14,279.87 316.49,281.86 318.84,283.84 327.88,273.16 325.53,271.17 323.18,269.18 320.82,267.19 318.47,265.20 316.11,263.22 313.75,261.23 311.40,259.25 309.04,257.27 306.68,255.28 304.31,253.30 301.95,251.33 299.59,249.35 297.22,247.37 294.86,245.40 292.49,243.42 290.12,241.45 287.76,239.48 285.39,237.51Z" fill="#4682b4"/><path d="M327.88,273.16 325.53,271.17 323.18,269.18 320.82,267.19 318.47,265.20 316.11,263.22 313.75,261.23 311.40,259.25 309.04,257.27 306.68,255.28 304.31,253.30 301.95,251.33 299.59,249.35 297.22,247.37 294.86,245.40 292.49,243.42 290.12,241.45 287.76,239.48 285.39,237.51 283.02,235.54 281.23,237.69 283.60,239.66 285.97,241.63 288.33,243.60 290.70,245.57 293.06,247.55 295.43,249.52 297.79,251.50 300.15,253.47 302.52,255.45 304.88,257.43 307.24,259.41 309.59,261.39 311.95,263.37 314.31,265.36 316.66,267.34 319.02,269.33 321.37,271.32 323.72,273.31 326.07,275.30Z" fill="#74a1c7"/><path d="M274.07,246.31 276.44,248.27 278.80,250.24 281.16,252.21 283.53,254.17 285.89,256.14 288.25,258.11 290.61,260.09 292.96,262.06 295.32,264.03 297.68,266.01 300.03,267.99 302.39,269.96 304.74,271.94 307.09,273.92 309.44,275.91 311.79,277.89 314.14,279.87 316.49,281.86 318.84,283.84 327.88,273.16 320.64,281.71 318.30,279.72 315.95,277.73 313.60,275.75 311.25,273.77 308.89,271.78 306.54,269.80 304.19,267.82 301.83,265.84 299.48,263.86 297.12,261.89 294.76,259.91 292.40,257.94 290.04,255.97 287.68,253.99 285.32,252.02 282.96,250.05 280.59,248.09 278.23,246.12 275.86,244.15 283.02,235.54Z" fill="#346287"/>
<path d="M271.52,249.39 262.57,260.16 264.85,262.05 267.13,263.95 269.41,265.84 271.69,267.74 273.96,269.64 276.24,271.53 278.51,273.44 280.78,275.34 283.05,277.24 285.32,279.14 287.59,281.05 289.86,282.95 292.13,284.86 294.40,286.77 296.67,288.68 298.93,290.59 301.19,292.50 303.46,294.41 311.73,292.24 311.81,291.29 312.63,291.17 312.50,283.72 310.23,281.80 307.96,279.89 305.69,277.97 303.42,276.06 301.14,274.15 298.87,272.24 296.60,270.32 294.32,268.42 292.05,266.51 289.77,264.60 287.49,262.69 285.21,260.79 282.93,258.89 280.65,256.98 278.37,255.08 276.09,253.18 273.80,251.28Z" fill="#ff0000"/><path d="M312.63,291.17 312.50,283.72 310.23,281.80 307.96,279.89 305.69,277.97 303.42,276.06 301.14,274.15 298.87,272.24 296.60,270.32 294.32,268.42 292.05,266.51 289.77,264.60 287.49,262.69 285.21,260.79 282.93,258.89 280.65,256.98 278.37,255.08 276.09,253.18 273.80,251.28 271.52,249.39 269.73,251.54 272.01,253.44 274.29,255.34 276.58,257.23 278.86,259.14 281.14,261.04 283.42,262.94 285.69,264.84 287.97,266.75 290.25,268.65 292.52,270.56 294.80,272.47 297.07,274.38 299.34,276.29 301.61,278.20 303.88,280.11 306.15,282.03 308.42,283.94 310.69,285.86 311.58,291.33Z" fill="#ff4040"/><path d="M262.57,260.16 264.85,262.05 267.13,263.95 269.41,265.84 271.69,267.74 273.96,269.64 276.24,271.53 278.51,273.44 280.78,275.34 283.05,277.24 285.32,279.14 287.59,281.05 289.86,282.95 292.13,284.86 294.40,286.77 296.67,288.68 298.93,290.59 301.19,292.50 303.46,294.41 311.73,292.24 311.81,291.29 305.27,292.27 303.00,290.36 300.74,288.45 298.47,286.54 296.20,284.63 293.93,282.72 291.67,280.81 289.40,278.90 287.12,277.00 284.85,275.09 282.58,273.19 280.31,271.29 278.03,269.39 275.76,267.49 273.48,265.59 271.20,263.69 268.92,261.79 266.64,259.90 264.36,258.00 271.52,249.39Z" fill="#bf0000"/>
<path d="M332.28,276.89 325.03,285.43 323.22,287.56 325.53,289.52 327.84,291.49 330.16,293.46 332.47,295.42 334.77,297.39 337.08,299.36 339.39,301.33 341.70,303.30 344.00,305.27 346.30,307.25 348.61,309.22 350.91,311.20 353.21,313.18 355.51,315.16 357.81,317.14 360.11,319.12 362.40,321.10 364.70,323.08 366.99,325.07 369.29,327.05 371.58,329.04 373.87,331.03 376.16,333.02 378.45,335.01 387.64,324.44 385.35,322.45 383.05,320.45 380.75,318.46 378.45,316.47 376.15,314.48 373.85,312.49 371.55,310.50 369.25,308.52 366.95,306.53 364.64,304.55 362.34,302.56 360.03,300.58 357.72,298.60 355.42,296.62 353.11,294.64 350.80,292.66 348.48,290.69 346.17,288.71 343.86,286.74 341.54,284.77 339.23,282.79 336.91,280.82 334.60,278.85Z" fill="#4682b4"/><path d="M387.64,324.44 385.35,322.45 383.05,320.45 380.75,318.46 378.45,316.47 376.15,314.48 373.85,312.49 371.55,310.50 369.25,308.52 366.95,306.53 364.64,304.55 362.34,302.56 360.03,300.58 357.72,298.60 355.42,296.62 353.11,294.64 350.80,292.66 348.48,290.69 346.17,288.71 343.86,286.74 341.54,284.77 339.23,282.79 336.91,280.82 334.60,278.85 332.28,276.89 325.03,285.43 330.47,279.02 332.78,280.99 335.10,282.96 337.41,284.93 339.73,286.90 342.04,288.87 344.35,290.84 346.67,292.82 348.98,294.79 351.29,296.77 353.59,298.75 355.90,300.72 358.21,302.70 360.51,304.69 362.82,306.67 365.12,308.65 367.42,310.64 369.72,312.62 372.02,314.61 374.32,316.60 376.62,318.59 378.92,320.58 381.21,322.57 383.51,324.56 385.80,326.55 380.29,332.89Z" fill="#74a1c7"/><path d="M323.22,287.56 325.53,289.52 327.84,291.49 330.16,293.46 332.47,295.42 334.77,297.39 337.08,299.36 339.39,301.33 341.70,303.30 344.00,305.27 346.30,307.25 348.61,309.22 350.91,311.20 353.21,313.18 355.51,315.16 357.81,317.14 360.11,319.12 362.40,321.10 364.70,323.08 366.99,325.07 369.29,327.05 371.58,329.04 373.87,331.03 376.16,333.02 378.45,335.01 387.64,324.44 380.29,332.89 378.00,330.90 375.71,328.91 373.42,326.92 371.12,324.94 368.83,322.95 366.53,320.96 364.23,318.98 361.94,317.00 359.64,315.01 357.34,313.03 355.04,311.05 352.73,309.08 350.43,307.10 348.13,305.12 345.82,303.15 343.52,301.17 341.21,299.20 338.90,297.23 336.59,295.26 334.28,293.29 331.97,291.32 329.66,289.36 327.35,287.39 325.03,285.43Z" fill="#346287"/>
<path d="M320.63,290.61 311.57,301.29 313.92,303.28 316.26,305.27 318.61,307.26 320.95,309.26 323.29,311.25 325.63,313.25 327.97,315.25 330.31,317.25 332.65,319.25 334.98,321.25 337.32,323.26 339.65,325.26 341.99,327.27 344.32,329.27 346.65,331.28 348.98,333.29 351.31,335.30 353.64,337.31 355.97,339.33 358.29,341.34 360.62,343.36 362.94,345.37 371.24,343.31 371.33,342.36 372.16,342.25 372.12,334.80 369.79,332.78 367.46,330.76 365.13,328.74 362.79,326.72 360.46,324.71 358.13,322.69 355.79,320.68 353.45,318.66 351.12,316.65 348.78,314.64 346.44,312.63 344.10,310.62 341.76,308.62 339.41,306.61 337.07,304.61 334.72,302.60 332.38,300.60 330.03,298.60 327.68,296.60 325.33,294.60 322.98,292.61Z" fill="#ff0000"/><path d="M372.16,342.25 372.12,334.80 369.79,332.78 367.46,330.76 365.13,328.74 362.79,326.72 360.46,324.71 358.13,322.69 355.79,320.68 353.45,318.66 351.12,316.65 348.78,314.64 346.44,312.63 344.10,310.62 341.76,308.62 339.41,306.61 337.07,304.61 334.72,302.60 332.38,300.60 330.03,298.60 327.68,296.60 325.33,294.60 322.98,292.61 320.63,290.61 318.82,292.75 321.17,294.74 323.52,296.74 325.87,298.73 328.21,300.73 330.56,302.73 332.91,304.73 335.25,306.74 337.59,308.74 339.93,310.74 342.27,312.75 344.61,314.76 346.95,316.77 349.29,318.78 351.63,320.79 353.96,322.80 356.30,324.81 358.63,326.83 360.96,328.84 363.29,330.86 365.63,332.88 367.95,334.89 370.28,336.91 371.10,342.39Z" fill="#ff4040"/><path d="M311.57,301.29 313.92,303.28 316.26,305.27 318.61,307.26 320.95,309.26 323.29,311.25 325.63,313.25 327.97,315.25 330.31,317.25 332.65,319.25 334.98,321.25 337.32,323.26 339.65,325.26 341.99,327.27 344.32,329.27 346.65,331.28 348.98,333.29 351.31,335.30 353.64,337.31 355.97,339.33 358.29,341.34 360.62,343.36 362.94,345.37 371.24,343.31 371.33,342.36 364.78,343.26 362.45,341.24 360.12,339.22 357.80,337.21 355.47,335.20 353.14,333.18 350.81,331.17 348.48,329.16 346.15,327.15 343.81,325.14 341.48,323.14 339.14,321.13 336.81,319.13 334.47,317.12 332.13,315.12 329.79,313.12 327.45,311.12 325.11,309.12 322.77,307.13 320.42,305.13 318.08,303.14 315.73,301.14 313.39,299.15 320.63,290.61Z" fill="#bf0000"/>
<path d="M392.97,329.08 385.61,337.52 385.61,337.52 383.77,339.63 385.92,341.51 388.07,343.39 390.23,345.27 392.38,347.15 394.53,349.04 396.68,350.92 398.83,352.80 400.98,354.69 403.13,356.58 405.27,358.47 414.52,347.96 412.37,346.06 410.22,344.17 408.06,342.28 405.91,340.39 403.75,338.50 401.60,336.62 399.44,334.73 397.28,332.84 395.13,330.96Z" fill="#696969"/><path d="M414.52,347.96 412.37,346.06 410.22,344.17 408.06,342.28 405.91,340.39 403.75,338.50 401.60,336.62 399.44,334.73 397.28,332.84 395.13,330.96 392.97,329.08 385.61,337.52 391.13,331.19 393.28,333.07 395.44,334.95 397.60,336.84 399.75,338.72 401.91,340.61 404.06,342.50 406.22,344.39 408.37,346.28 410.52,348.17 412.67,350.06 407.12,356.36Z" fill="#8e8e8e"/><path d="M383.77,339.63 385.92,341.51 388.07,343.39 390.23,345.27 392.38,347.15 394.53,349.04 396.68,350.92 398.83,352.80 400.98,354.69 403.13,356.58 405.27,358.47 414.52,347.96 407.12,356.36 404.97,354.47 402.83,352.59 400.68,350.70 398.53,348.81 396.38,346.93 394.22,345.05 392.07,343.16 389.92,341.28 387.76,339.40 385.61,337.52Z" fill="#4f4f4f"/>
<path d="M381.14,342.65 371.94,353.20 374.16,355.14 376.38,357.08 378.61,359.02 380.83,360.96 383.05,362.90 385.26,364.85 387.48,366.79 389.70,368.74 398.01,366.72 398.11,365.78 398.93,365.67 398.94,358.22 396.72,356.27 394.49,354.32 392.27,352.37 390.05,350.43 387.82,348.48 385.59,346.53 383.37,344.59Z" fill="#ff0000"/><path d="M398.93,365.67 398.94,358.22 396.72,356.27 394.49,354.32 392.27,352.37 390.05,350.43 387.82,348.48 385.59,346.53 383.37,344.59 381.14,342.65 373.78,351.09 379.30,344.76 381.53,346.70 383.75,348.64 385.98,350.59 388.20,352.53 390.42,354.48 392.65,356.43 394.87,358.38 397.09,360.33 397.87,365.81Z" fill="#ff4040"/><path d="M371.94,353.20 374.16,355.14 376.38,357.08 378.61,359.02 380.83,360.96 383.05,362.90 385.26,364.85 387.48,366.79 389.70,368.74 398.01,366.72 398.11,365.78 391.54,366.64 389.33,364.69 387.11,362.74 384.89,360.80 382.67,358.85 380.45,356.91 378.23,354.97 376.00,353.03 373.78,351.09 381.14,342.65Z" fill="#bf0000"/>
<path d="M428.41,360.22 420.99,368.61 420.99,368.61 419.13,370.70 421.21,372.55 423.30,374.39 425.38,376.24 427.46,378.09 429.54,379.93 431.61,381.78 433.69,383.63 443.01,373.18 440.92,371.33 438.84,369.47 436.76,367.62 434.67,365.77 432.59,363.92 430.50,362.07Z" fill="#ff8c00"/><path d="M443.01,373.18 440.92,371.33 438.84,369.47 436.76,367.62 434.67,365.77 432.59,363.92 430.50,362.07 428.41,360.22 426.56,362.32 428.64,364.16 430.73,366.01 432.81,367.86 434.90,369.71 436.98,371.57 439.06,373.42 441.14,375.27Z" fill="#ffa940"/><path d="M419.13,370.70 421.21,372.55 423.30,374.39 425.38,376.24 427.46,378.09 429.54,379.93 431.61,381.78 433.69,383.63 443.01,373.18 435.55,381.54 433.48,379.69 431.40,377.84 429.32,375.99 427.24,374.14 425.15,372.30 423.07,370.45 420.99,368.61Z" fill="#bf6900"/>
<path d="M416.48,373.70 407.20,384.18 409.37,386.10 411.54,388.03 413.71,389.95 415.88,391.88 418.05,393.81 426.37,391.85 426.48,390.90 427.30,390.80 427.36,383.35 425.18,381.42 423.01,379.49 420.83,377.55 418.66,375.62Z" fill="#ff0000"/><path d="M427.30,390.80 427.36,383.35 425.18,381.42 423.01,379.49 420.83,377.55 418.66,375.62 416.48,373.70 414.62,375.79 416.80,377.72 418.98,379.65 421.15,381.58 423.32,383.51 425.50,385.44 426.25,390.93Z" fill="#ff4040"/><path d="M407.20,384.18 409.37,386.10 411.54,388.03 413.71,389.95 415.88,391.88 418.05,393.81 426.37,391.85 426.48,390.90 419.91,391.72 417.74,389.79 415.57,387.86 413.40,385.93 411.23,384.01 409.06,382.08 416.48,373.70Z" fill="#bf0000"/>
<path d="M443.86,373.94 436.40,382.30 436.40,382.30 434.54,384.39 436.81,386.42 439.08,388.44 441.34,390.47 443.61,392.49 445.87,394.52 448.14,396.55 450.40,398.58 452.66,400.61 454.92,402.65 457.18,404.68 459.44,406.72 461.69,408.75 463.95,410.79 466.21,412.83 468.46,414.87 470.71,416.91 472.97,418.95 475.22,420.99 477.47,423.04 479.72,425.08 481.96,427.13 484.21,429.18 486.46,431.23 488.70,433.28 490.94,435.33 493.19,437.38 495.43,439.43 497.67,441.49 499.91,443.54 502.15,445.60 504.39,447.66 506.62,449.72 508.86,451.78 511.09,453.84 513.32,455.90 515.56,457.97 517.79,460.03 520.02,462.10 522.25,464.16 524.48,466.23 526.38,464.18 526.38,464.18 534.00,455.97 531.77,453.90 529.53,451.83 527.30,449.76 525.06,447.69 522.83,445.62 520.59,443.55 518.35,441.49 516.11,439.42 513.87,437.36 511.62,435.29 509.38,433.23 507.13,431.17 504.89,429.11 502.64,427.05 500.39,425.00 498.14,422.94 495.89,420.89 493.64,418.83 491.39,416.78 489.14,414.73 486.88,412.68 484.63,410.63 482.37,408.58 480.11,406.54 477.86,404.49 475.60,402.45 473.34,400.40 471.08,398.36 468.81,396.32 466.55,394.28 464.28,392.24 462.02,390.20 459.75,388.17 457.48,386.13 455.22,384.10 452.95,382.06 450.68,380.03 448.40,378.00 446.13,375.97Z" fill="#483d8b"/><path d="M534.00,455.97 531.77,453.90 529.53,451.83 527.30,449.76 525.06,447.69 522.83,445.62 520.59,443.55 518.35,441.49 516.11,439.42 513.87,437.36 511.62,435.29 509.38,433.23 507.13,431.17 504.89,429.11 502.64,427.05 500.39,425.00 498.14,422.94 495.89,420.89 493.64,418.83 491.39,416.78 489.14,414.73 486.88,412.68 484.63,410.63 482.37,408.58 480.11,406.54 477.86,404.49 475.60,402.45 473.34,400.40 471.08,398.36 468.81,396.32 466.55,394.28 464.28,392.24 462.02,390.20 459.75,388.17 457.48,386.13 455.22,384.10 452.95,382.06 450.68,380.03 448.40,378.00 446.13,375.97 443.86,373.94 441.99,376.03 444.27,378.06 446.54,380.09 448.81,382.12 451.08,384.15 453.35,386.18 455.62,388.21 457.88,390.25 460.15,392.28 462.41,394.32 464.68,396.36 466.94,398.40 469.20,400.44 471.46,402.48 473.72,404.52 475.98,406.57 478.23,408.61 480.49,410.66 482.75,412.70 485.00,414.75 487.25,416.80 489.51,418.85 491.76,420.90 494.01,422.95 496.26,425.01 498.50,427.06 500.75,429.12 503.00,431.18 505.24,433.24 507.48,435.29 509.73,437.36 511.97,439.42 514.21,441.48 516.45,443.54 518.69,445.61 520.93,447.68 523.16,449.74 525.40,451.81 527.63,453.88 529.86,455.95 532.10,458.02 526.38,464.18Z" fill="#766ea8"/><path d="M434.54,384.39 436.81,386.42 439.08,388.44 441.34,390.47 443.61,392.49 445.87,394.52 448.14,396.55 450.40,398.58 452.66,400.61 454.92,402.65 457.18,404.68 459.44,406.72 461.69,408.75 463.95,410.79 466.21,412.83 468.46,414.87 470.71,416.91 472.97,418.95 475.22,420.99 477.47,423.04 479.72,425.08 481.96,427.13 484.21,429.18 486.46,431.23 488.70,433.28 490.94,435.33 493.19,437.38 495.43,439.43 497.67,441.49 499.91,443.54 502.15,445.60 504.39,447.66 506.62,449.72 508.86,451.78 511.09,453.84 513.32,455.90 515.56,457.97 517.79,460.03 520.02,462.10 522.25,464.16 524.48,466.23 526.38,464.18 524.15,462.11 521.92,460.04 519.69,457.98 517.46,455.91 515.22,453.85 512.99,451.78 510.76,449.72 508.52,447.66 506.28,445.60 504.04,443.54 501.80,441.48 499.56,439.43 497.32,437.37 495.08,435.32 492.83,433.26 490.59,431.21 488.34,429.16 486.10,427.11 483.85,425.06 481.60,423.01 479.35,420.97 477.10,418.92 474.85,416.88 472.59,414.83 470.34,412.79 468.08,410.75 465.83,408.71 463.57,406.67 461.31,404.64 459.05,402.60 456.79,400.57 454.53,398.53 452.27,396.50 450.01,394.47 447.74,392.44 445.48,390.41 443.21,388.38 440.94,386.35 438.67,384.33 436.40,382.30Z" fill="#362e68"/>
<path d="M431.88,387.38 424.42,395.74 424.42,395.74 422.56,397.83 424.85,399.87 427.13,401.90 429.41,403.94 431.69,405.99 433.97,408.03 436.25,410.07 438.53,412.12 440.81,414.16 443.08,416.21 445.36,418.26 447.63,420.31 449.91,422.36 452.18,424.41 454.45,426.46 456.72,428.52 458.99,430.57 461.25,432.63 463.52,434.69 465.79,436.75 468.05,438.81 470.31,440.87 472.58,442.93 474.84,444.99 477.10,447.06 479.36,449.12 481.62,451.19 483.87,453.26 486.13,455.33 488.38,457.40 490.64,459.47 492.89,461.54 495.14,463.62 497.39,465.69 499.64,467.77 501.89,469.85 504.14,471.92 506.39,474.00 508.63,476.08 516.99,474.29 517.12,473.35 517.94,473.27 518.15,465.82 515.90,463.73 513.65,461.65 511.39,459.56 509.14,457.48 506.89,455.40 504.63,453.32 502.37,451.24 500.11,449.16 497.86,447.09 495.59,445.01 493.33,442.94 491.07,440.87 488.81,438.79 486.54,436.72 484.28,434.65 482.01,432.59 479.74,430.52 477.47,428.45 475.20,426.39 472.93,424.32 470.66,422.26 468.39,420.20 466.11,418.14 463.84,416.08 461.56,414.02 459.29,411.97 457.01,409.91 454.73,407.86 452.45,405.80 450.17,403.75 447.88,401.70 445.60,399.65 443.32,397.60 441.03,395.56 438.74,393.51 436.46,391.46 434.17,389.42Z" fill="#ff0000"/><path d="M517.94,473.27 518.15,465.82 515.90,463.73 513.65,461.65 511.39,459.56 509.14,457.48 506.89,455.40 504.63,453.32 502.37,451.24 500.11,449.16 497.86,447.09 495.59,445.01 493.33,442.94 491.07,440.87 488.81,438.79 486.54,436.72 484.28,434.65 482.01,432.59 479.74,430.52 477.47,428.45 475.20,426.39 472.93,424.32 470.66,422.26 468.39,420.20 466.11,418.14 463.84,416.08 461.56,414.02 459.29,411.97 457.01,409.91 454.73,407.86 452.45,405.80 450.17,403.75 447.88,401.70 445.60,399.65 443.32,397.60 441.03,395.56 438.74,393.51 436.46,391.46 434.17,389.42 431.88,387.38 430.02,389.47 432.30,391.51 434.59,393.55 436.88,395.60 439.16,397.64 441.45,399.69 443.73,401.74 446.01,403.78 448.30,405.83 450.58,407.89 452.85,409.94 455.13,411.99 457.41,414.05 459.69,416.10 461.96,418.16 464.24,420.22 466.51,422.28 468.78,424.34 471.05,426.40 473.32,428.46 475.59,430.52 477.86,432.59 480.12,434.66 482.39,436.72 484.65,438.79 486.92,440.86 489.18,442.93 491.44,445.00 493.70,447.08 495.96,449.15 498.22,451.23 500.48,453.30 502.73,455.38 504.99,457.46 507.24,459.54 509.49,461.62 511.75,463.70 514.00,465.79 516.25,467.87 516.88,473.37Z" fill="#ff4040"/><path d="M422.56,397.83 424.85,399.87 427.13,401.90 429.41,403.94 431.69,405.99 433.97,408.03 436.25,410.07 438.53,412.12 440.81,414.16 443.08,416.21 445.36,418.26 447.63,420.31 449.91,422.36 452.18,424.41 454.45,426.46 456.72,428.52 458.99,430.57 461.25,432.63 463.52,434.69 465.79,436.75 468.05,438.81 470.31,440.87 472.58,442.93 474.84,444.99 477.10,447.06 479.36,449.12 481.62,451.19 483.87,453.26 486.13,455.33 488.38,457.40 490.64,459.47 492.89,461.54 495.14,463.62 497.39,465.69 499.64,467.77 501.89,469.85 504.14,471.92 506.39,474.00 508.63,476.08 516.99,474.29 517.12,473.35 510.54,474.03 508.29,471.95 506.04,469.87 503.79,467.79 501.54,465.71 499.29,463.63 497.04,461.56 494.79,459.48 492.53,457.41 490.28,455.34 488.02,453.27 485.77,451.20 483.51,449.13 481.25,447.06 478.99,444.99 476.73,442.93 474.46,440.86 472.20,438.80 469.94,436.74 467.67,434.68 465.40,432.62 463.14,430.56 460.87,428.50 458.60,426.44 456.33,424.39 454.05,422.33 451.78,420.28 449.51,418.23 447.23,416.18 444.96,414.13 442.68,412.08 440.40,410.03 438.12,407.99 435.84,405.94 433.56,403.90 431.28,401.86 428.99,399.82 426.71,397.78 424.42,395.74Z" fill="#bf0000"/>
<path d="M605.53,523.49 597.78,531.58 597.78,531.58 595.84,533.60 598.01,535.68 600.18,537.76 602.34,539.85 604.51,541.93 606.67,544.02 608.84,546.10 611.00,548.19 613.16,550.28 615.32,552.37 617.48,554.46 619.64,556.56 621.80,558.65 623.95,560.75 626.11,562.84 628.26,564.94 630.41,567.04 632.57,569.14 634.72,571.24 636.87,573.34 639.01,575.44 641.16,577.54 650.96,567.54 648.81,565.44 646.65,563.33 644.50,561.22 642.34,559.12 640.19,557.01 638.03,554.91 635.87,552.81 633.71,550.71 631.55,548.61 629.39,546.51 627.22,544.41 625.06,542.31 622.89,540.22 620.73,538.12 618.56,536.03 616.39,533.94 614.22,531.85 612.05,529.76 609.88,527.67 607.71,525.58Z" fill="#c0c0c0"/><path d="M650.96,567.54 648.81,565.44 646.65,563.33 644.50,561.22 642.34,559.12 640.19,557.01 638.03,554.91 635.87,552.81 633.71,550.71 631.55,548.61 629.39,546.51 627.22,544.41 625.06,542.31 622.89,540.22 620.73,538.12 618.56,536.03 616.39,533.94 614.22,531.85 612.05,529.76 609.88,527.67 607.71,525.58 605.53,523.49 597.78,531.58 603.60,525.51 605.77,527.60 607.94,529.69 610.11,531.78 612.28,533.86 614.45,535.95 616.62,538.05 618.78,540.14 620.95,542.23 623.11,544.33 625.27,546.42 627.44,548.52 629.60,550.62 631.76,552.71 633.92,554.81 636.08,556.92 638.23,559.02 640.39,561.12 642.54,563.22 644.70,565.33 646.85,567.44 649.00,569.54 643.12,575.54Z" fill="#d0d0d0"/><path d="M595.84,533.60 598.01,535.68 600.18,537.76 602.34,539.85 604.51,541.93 606.67,544.02 608.84,546.10 611.00,548.19 613.16,550.28 615.32,552.37 617.48,554.46 619.64,556.56 621.80,558.65 623.95,560.75 626.11,562.84 628.26,564.94 630.41,567.04 632.57,569.14 634.72,571.24 636.87,573.34 639.01,575.44 641.16,577.54 650.96,567.54 643.12,575.54 640.97,573.44 638.82,571.34 636.67,569.23 634.52,567.13 632.37,565.03 630.21,562.93 628.06,560.83 625.90,558.74 623.75,556.64 621.59,554.55 619.43,552.45 617.27,550.36 615.11,548.27 612.94,546.18 610.78,544.09 608.62,542.00 606.45,539.91 604.29,537.83 602.12,535.74 599.95,533.66 597.78,531.58Z" fill="#909090"/>
<path d="M593.07,536.48 585.32,544.56 585.32,544.56 583.38,546.58 585.58,548.70 587.78,550.82 589.99,552.93 592.19,555.05 594.38,557.17 596.58,559.29 598.78,561.42 600.98,563.54 603.17,565.66 605.36,567.79 607.56,569.92 609.75,572.04 611.94,574.17 614.13,576.30 616.32,578.43 618.50,580.56 620.69,582.70 622.88,584.83 625.06,586.97 633.46,585.40 633.62,584.46 634.44,584.40 634.85,576.96 632.66,574.82 630.47,572.68 628.28,570.54 626.09,568.41 623.89,566.27 621.70,564.13 619.50,562.00 617.31,559.87 615.11,557.74 612.91,555.61 610.71,553.48 608.51,551.35 606.31,549.22 604.10,547.10 601.90,544.97 599.69,542.85 597.49,540.72 595.28,538.60Z" fill="#ff0000"/><path d="M634.44,584.40 634.85,576.96 632.66,574.82 630.47,572.68 628.28,570.54 626.09,568.41 623.89,566.27 621.70,564.13 619.50,562.00 617.31,559.87 615.11,557.74 612.91,555.61 610.71,553.48 608.51,551.35 606.31,549.22 604.10,547.10 601.90,544.97 599.69,542.85 597.49,540.72 595.28,538.60 593.07,536.48 591.13,538.50 593.34,540.62 595.55,542.74 597.75,544.86 599.96,546.99 602.16,549.11 604.36,551.24 606.56,553.36 608.76,555.49 610.96,557.62 613.16,559.75 615.36,561.88 617.55,564.01 619.75,566.14 621.94,568.28 624.13,570.41 626.32,572.55 628.51,574.68 630.70,576.82 632.89,578.96 633.38,584.48Z" fill="#ff4040"/><path d="M583.38,546.58 585.58,548.70 587.78,550.82 589.99,552.93 592.19,555.05 594.38,557.17 596.58,559.29 598.78,561.42 600.98,563.54 603.17,565.66 605.36,567.79 607.56,569.92 609.75,572.04 611.94,574.17 614.13,576.30 616.32,578.43 618.50,580.56 620.69,582.70 622.88,584.83 625.06,586.97 633.46,585.40 633.62,584.46 627.02,584.97 624.83,582.83 622.65,580.69 620.46,578.56 618.27,576.43 616.08,574.30 613.89,572.16 611.70,570.03 609.51,567.91 607.31,565.78 605.12,563.65 602.92,561.53 600.73,559.40 598.53,557.28 596.33,555.16 594.13,553.04 591.93,550.92 589.72,548.80 587.52,546.68 585.32,544.56Z" fill="#bf0000"/>
<path d="M-52.82,40.27 -52.99,48.81 -50.57,50.57 -48.15,52.33 -45.74,54.10 -43.32,55.87 -40.90,57.63 -38.49,59.40 -36.08,61.17 -33.66,62.94 -31.25,64.72 -28.84,66.49 -26.43,68.27 -24.02,70.04 -21.61,71.82 -19.20,73.60 -16.80,75.38 -14.39,77.16 -11.99,78.94 -9.58,80.73 -7.18,82.51 -4.78,84.30 -2.38,86.09 5.99,74.86 3.58,73.07 1.17,71.27 -1.24,69.49 -3.65,67.70 -6.06,65.91 -8.47,64.13 -10.88,62.34 -13.29,60.56 -15.71,58.78 -18.12,57.00 -20.54,55.22 -22.96,53.44 -25.37,51.66 -27.79,49.89 -30.21,48.11 -32.63,46.34 -35.05,44.57 -37.48,42.79 -39.90,41.02 -42.32,39.26 -44.75,37.49 -52.00,39.14 -51.93,39.96Z" fill="#0000ff"/><path d="M5.99,74.86 3.58,73.07 1.17,71.27 -1.24,69.49 -3.65,67.70 -6.06,65.91 -8.47,64.13 -10.88,62.34 -13.29,60.56 -15.71,58.78 -18.12,57.00 -20.54,55.22 -22.96,53.44 -25.37,51.66 -27.79,49.89 -30.21,48.11 -32.63,46.34 -35.05,44.57 -37.48,42.79 -39.90,41.02 -42.32,39.26 -44.75,37.49 -52.00,39.14 -51.91,40.20 -46.40,39.75 -43.97,41.52 -41.55,43.29 -39.13,45.06 -36.71,46.83 -34.29,48.60 -31.87,50.37 -29.45,52.14 -27.03,53.92 -24.62,55.69 -22.20,57.47 -19.79,59.25 -17.37,61.03 -14.96,62.81 -12.55,64.59 -10.13,66.38 -7.72,68.16 -5.32,69.95 -2.91,71.73 -0.50,73.52 1.91,75.31 4.31,77.10 -0.70,83.84Z" fill="#4040ff"/><path d="M-52.82,40.27 -52.99,48.81 -50.57,50.57 -48.15,52.33 -45.74,54.10 -43.32,55.87 -40.90,57.63 -38.49,59.40 -36.08,61.17 -33.66,62.94 -31.25,64.72 -28.84,66.49 -26.43,68.27 -24.02,70.04 -21.61,71.82 -19.20,73.60 -16.80,75.38 -14.39,77.16 -11.99,78.94 -9.58,80.73 -7.18,82.51 -4.78,84.30 -2.38,86.09 5.99,74.86 -0.70,83.84 -3.11,82.05 -5.51,80.26 -7.91,78.48 -10.32,76.69 -12.72,74.91 -15.13,73.13 -17.54,71.35 -19.95,69.57 -22.36,67.79 -24.77,66.01 -27.18,64.24 -29.59,62.46 -32.01,60.69 -34.42,58.92 -36.83,57.14 -39.25,55.37 -41.67,53.61 -44.08,51.84 -46.50,50.07 -48.92,48.31 -51.34,46.54 -51.93,39.96Z" fill="#0000bf"/>
<path d="M499.63,510.04 490.08,520.28 492.28,522.33 494.48,524.38 496.67,526.43 498.86,528.48 501.05,530.54 503.25,532.59 505.43,534.65 507.62,536.70 509.81,538.76 512.00,540.82 514.18,542.88 516.37,544.94 518.55,547.00 520.73,549.06 522.92,551.13 525.10,553.19 527.28,555.26 529.45,557.32 531.63,559.39 533.81,561.46 535.98,563.53 538.16,565.60 540.33,567.67 542.50,569.75 544.67,571.82 546.61,569.80 546.61,569.80 554.35,561.70 552.17,559.62 549.99,557.55 547.82,555.47 545.64,553.39 543.46,551.32 541.28,549.24 539.09,547.17 536.91,545.10 534.73,543.03 532.54,540.96 530.35,538.89 528.17,536.82 525.98,534.75 523.79,532.69 521.60,530.63 519.40,528.56 517.21,526.50 515.02,524.44 512.82,522.38 510.63,520.32 508.43,518.26 506.23,516.21 504.03,514.15 501.83,512.10Z" fill="#0000ff"/><path d="M554.35,561.70 552.17,559.62 549.99,557.55 547.82,555.47 545.64,553.39 543.46,551.32 541.28,549.24 539.09,547.17 536.91,545.10 534.73,543.03 532.54,540.96 530.35,538.89 528.17,536.82 525.98,534.75 523.79,532.69 521.60,530.63 519.40,528.56 517.21,526.50 515.02,524.44 512.82,522.38 510.63,520.32 508.43,518.26 506.23,516.21 504.03,514.15 501.83,512.10 499.63,510.04 497.72,512.09 499.92,514.14 502.12,516.20 504.32,518.25 506.52,520.31 508.71,522.36 510.91,524.42 513.10,526.48 515.29,528.54 517.49,530.60 519.68,532.66 521.87,534.73 524.06,536.79 526.24,538.86 528.43,540.92 530.61,542.99 532.80,545.06 534.98,547.13 537.17,549.20 539.35,551.27 541.53,553.35 543.71,555.42 545.88,557.50 548.06,559.57 550.24,561.65 552.41,563.73 546.61,569.80Z" fill="#4040ff"/><path d="M490.08,520.28 492.28,522.33 494.48,524.38 496.67,526.43 498.86,528.48 501.05,530.54 503.25,532.59 505.43,534.65 507.62,536.70 509.81,538.76 512.00,540.82 514.18,542.88 516.37,544.94 518.55,547.00 520.73,549.06 522.92,551.13 525.10,553.19 527.28,555.26 529.45,557.32 531.63,559.39 533.81,561.46 535.98,563.53 538.16,565.60 540.33,567.67 542.50,569.75 544.67,571.82 546.61,569.80 544.44,567.72 542.26,565.65 540.09,563.58 537.91,561.50 535.74,559.43 533.56,557.36 531.38,555.29 529.20,553.22 527.02,551.16 524.84,549.09 522.66,547.03 520.47,544.96 518.29,542.90 516.10,540.84 513.92,538.78 511.73,536.72 509.54,534.66 507.35,532.60 505.16,530.55 502.97,528.49 500.78,526.44 498.58,524.39 496.39,522.34 494.19,520.29 491.99,518.24 499.63,510.04Z" fill="#0000bf"/>
<path d="M507.13,502.00 505.93,510.45 508.17,512.54 510.40,514.63 512.64,516.72 514.87,518.82 517.10,520.91 519.34,523.01 521.57,525.11 523.80,527.20 526.03,529.30 528.25,531.40 530.48,533.50 532.70,535.61 534.93,537.71 537.15,539.82 539.37,541.92 541.60,544.03 543.82,546.14 546.03,548.25 548.25,550.36 550.47,552.47 552.68,554.58 554.90,556.70 557.11,558.81 559.05,556.79 559.05,556.79 566.79,548.69 564.57,546.57 562.35,544.46 560.13,542.34 557.91,540.22 555.68,538.10 553.46,535.99 551.23,533.88 549.01,531.76 546.78,529.65 544.55,527.54 542.32,525.43 540.09,523.33 537.86,521.22 535.63,519.11 533.39,517.01 531.16,514.91 528.92,512.81 526.69,510.70 524.45,508.60 522.21,506.51 519.97,504.41 517.73,502.31 515.48,500.22 508.09,500.97 508.06,501.80Z" fill="#0000ff"/><path d="M566.79,548.69 564.57,546.57 562.35,544.46 560.13,542.34 557.91,540.22 555.68,538.10 553.46,535.99 551.23,533.88 549.01,531.76 546.78,529.65 544.55,527.54 542.32,525.43 540.09,523.33 537.86,521.22 535.63,519.11 533.39,517.01 531.16,514.91 528.92,512.81 526.69,510.70 524.45,508.60 522.21,506.51 519.97,504.41 517.73,502.31 515.48,500.22 508.09,500.97 508.05,502.04 513.57,502.26 515.81,504.36 518.06,506.45 520.29,508.55 522.53,510.65 524.77,512.75 527.01,514.85 529.24,516.95 531.47,519.05 533.71,521.15 535.94,523.26 538.17,525.36 540.40,527.47 542.63,529.58 544.85,531.69 547.08,533.80 549.31,535.91 551.53,538.02 553.75,540.13 555.98,542.25 558.20,544.36 560.42,546.48 562.63,548.60 564.85,550.72 559.05,556.79Z" fill="#4040ff"/><path d="M507.13,502.00 505.93,510.45 508.17,512.54 510.40,514.63 512.64,516.72 514.87,518.82 517.10,520.91 519.34,523.01 521.57,525.11 523.80,527.20 526.03,529.30 528.25,531.40 530.48,533.50 532.70,535.61 534.93,537.71 537.15,539.82 539.37,541.92 541.60,544.03 543.82,546.14 546.03,548.25 548.25,550.36 550.47,552.47 552.68,554.58 554.90,556.70 557.11,558.81 559.05,556.79 556.83,554.67 554.62,552.56 552.40,550.44 550.18,548.33 547.96,546.22 545.74,544.11 543.52,542.00 541.30,539.89 539.08,537.78 536.85,535.68 534.63,533.57 532.40,531.47 530.17,529.37 527.95,527.26 525.72,525.16 523.49,523.07 521.25,520.97 519.02,518.87 516.79,516.77 514.55,514.68 512.32,512.59 510.08,510.49 507.84,508.40 508.06,501.80Z" fill="#0000bf"/>
<g font-family="Liberation Sans, sans-serif" fill="#111"><text transform="translate(5.28,160.00) scale(0.92,1)" x="-2.27 2.94 8.05 11.05 17.12 22.30 27.85" y="0" font-size="8.2" >582 kbp</text><text transform="translate(45.77,191.00) scale(0.92,1)" x="-2.27 2.94 8.07 11.07 17.12 22.30 27.85" y="0" font-size="8.2" >583 kbp</text><text transform="translate(85.98,222.00) scale(0.92,1)" x="-2.27 2.94 8.07 11.07 17.12 22.30 27.85" y="0" font-size="8.2" >584 kbp</text><text transform="translate(125.92,254.00) scale(0.92,1)" x="-2.27 2.94 8.05 11.05 17.12 22.30 27.85" y="0" font-size="8.2" >585 kbp</text><text transform="translate(165.59,286.00) scale(0.92,1)" x="-2.27 2.94 8.02 11.02 17.12 22.30 27.85" y="0" font-size="8.2" >586 kbp</text><text transform="translate(204.98,319.00) scale(0.92,1)" x="-2.27 2.94 8.04 11.04 17.12 22.30 27.85" y="0" font-size="8.2" >587 kbp</text><text transform="translate(244.08,351.00) scale(0.92,1)" x="-2.27 2.94 8.05 11.05 17.12 22.30 27.85" y="0" font-size="8.2" >588 kbp</text><text transform="translate(282.91,384.00) scale(0.92,1)" x="-2.27 2.94 8.05 11.05 17.12 22.30 27.85" y="0" font-size="8.2" >589 kbp</text><text transform="translate(321.44,418.00) scale(0.92,1)" x="-2.27 2.94 8.05 11.05 17.12 22.30 27.85" y="0" font-size="8.2" >590 kbp</text><text transform="translate(359.69,452.00) scale(0.92,1)" x="-2.27 2.94 7.93 10.93 17.12 22.30 27.85" y="0" font-size="8.2" >591 kbp</text><text transform="translate(397.64,486.00) scale(0.92,1)" x="-2.27 2.94 8.05 11.05 17.12 22.30 27.85" y="0" font-size="8.2" >592 kbp</text><text transform="translate(435.30,520.00) scale(0.92,1)" x="-2.27 2.94 8.07 11.07 17.12 22.30 27.85" y="0" font-size="8.2" >593 kbp</text><text transform="translate(472.66,555.00) scale(0.92,1)" x="-2.27 2.94 8.07 11.07 17.12 22.30 27.85" y="0" font-size="8.2" >594 kbp</text><text transform="translate(509.73,590.00) scale(0.92,1)" x="-2.27 2.94 8.05 11.05 17.12 22.30 27.85" y="0" font-size="8.2" >595 kbp</text></g>
<g font-family="Liberation Sans, sans-serif" fill="#f00"><line x1="115.45" y1="81.56" x2="145.19" y2="42.87" stroke="#f00" stroke-width="1.2"/><text transform="translate(149.10,43.75) scale(0.8,1)" x="-3.90 3.98 10.77 18.11 22.99 31.23 39.26 47.23 54.92 62.28 69.26 76.65 84.01 91.64" y="0" font-size="11.2" >BcerKBAB4_0502</text><line x1="186.18" y1="136.77" x2="214.48" y2="96.93" stroke="#f00" stroke-width="1.2"/><text transform="translate(218.00,97.90) scale(0.8,1)" x="-3.90 3.98 10.77 18.11 22.99 31.23 39.26 47.23 54.92 62.28 69.26 76.65 84.01 91.67" y="0" font-size="11.2" >BcerKBAB4_0503</text><line x1="200.24" y1="147.94" x2="233.16" y2="111.78" stroke="#f00" stroke-width="1.2"/><text transform="translate(237.00,112.90) scale(0.8,1)" x="-3.90 3.98 10.77 18.11 22.99 31.23 39.26 47.23 54.92 62.28 69.26 76.65 84.01 91.67" y="0" font-size="11.2" >BcerKBAB4_0504</text><line x1="240.35" y1="180.20" x2="271.09" y2="142.31" stroke="#f00" stroke-width="1.2"/><text transform="translate(275.00,142.90) scale(0.8,1)" x="-3.90 3.98 10.77 18.11 22.99 31.23 39.26 47.23 54.92 62.28 69.26 76.65 84.01 91.65" y="0" font-size="11.2" >BcerKBAB4_0505</text><line x1="315.62" y1="242.30" x2="346.98" y2="204.90" stroke="#f00" stroke-width="1.2"/><text transform="translate(351.00,205.90) scale(0.8,1)" x="-3.90 3.98 10.77 18.11 22.99 31.23 39.26 47.23 54.92 62.28 69.26 76.65 84.01 91.60" y="0" font-size="11.2" >BcerKBAB4_0506</text><line x1="370.26" y1="288.67" x2="402.06" y2="251.65" stroke="#f00" stroke-width="1.2"/><text transform="translate(406.10,252.85) scale(0.8,1)" x="-3.90 3.98 10.77 18.11 22.99 31.23 39.26 47.23 54.92 62.28 69.26 76.65 84.01 91.63" y="0" font-size="11.2" >BcerKBAB4_0507</text><line x1="414.10" y1="326.69" x2="446.25" y2="289.98" stroke="#f00" stroke-width="1.2"/><text transform="translate(450.00,290.90) scale(0.8,1)" x="-3.90 3.98 10.77 18.11 22.99 31.23 39.26 47.23 54.92 62.28 69.26 76.65 84.01 91.64" y="0" font-size="11.2" >BcerKBAB4_0508</text><line x1="446.14" y1="354.96" x2="478.55" y2="318.48" stroke="#f00" stroke-width="1.2"/><text transform="translate(483.00,318.90) scale(0.8,1)" x="-3.90 3.98 10.77 18.11 22.99 31.23 39.26 47.23 54.92 62.28 69.26 76.65 84.01 91.64" y="0" font-size="11.2" >BcerKBAB4_0509</text></g>
<g font-family="Liberation Sans, sans-serif" font-style="italic" font-size="13.9" fill="#000"><text x="114" y="22.8" textLength="49" lengthAdjust="spacingAndGlyphs">Bacillus</text><text x="168" y="22.8" textLength="138.2" lengthAdjust="spacingAndGlyphs">weihenstephanensis</text><text x="312.4" y="22.8" textLength="47.2" lengthAdjust="spacingAndGlyphs">KBAB4,</text><text x="364.3" y="22.8" textLength="61.4" lengthAdjust="spacingAndGlyphs">complete</text><text x="430.4" y="22.8" textLength="55.6" lengthAdjust="spacingAndGlyphs">genome</text></g>
<rect x="255" y="571.5" width="342" height="23" fill="#fff" fill-opacity="0.8"/>
<g font-family="Liberation Sans, sans-serif" font-size="12.1" fill="#000"><text x="262" y="586.9" textLength="56" lengthAdjust="spacingAndGlyphs">Topology:</text><text x="323.6" y="586.9" textLength="43.4" lengthAdjust="spacingAndGlyphs">circular;</text><text x="372.6" y="586.9" textLength="41.2" lengthAdjust="spacingAndGlyphs">Length:</text><text x="418.6" y="586.9" textLength="62.8" lengthAdjust="spacingAndGlyphs">5,262,775</text><text x="486.6" y="586.9" textLength="20.0" lengthAdjust="spacingAndGlyphs">bp;</text><text x="511.6" y="586.9" textLength="39.6" lengthAdjust="spacingAndGlyphs">Genes:</text><text x="554.6" y="586.9" textLength="34.8" lengthAdjust="spacingAndGlyphs">5,305</text><text x="9.5" y="586.9" textLength="58.0" lengthAdjust="spacingAndGlyphs">Accession:</text><text x="72.9" y="586.9" textLength="70.2" lengthAdjust="spacingAndGlyphs">NC_010184</text></g>
</svg>
</body></html>
